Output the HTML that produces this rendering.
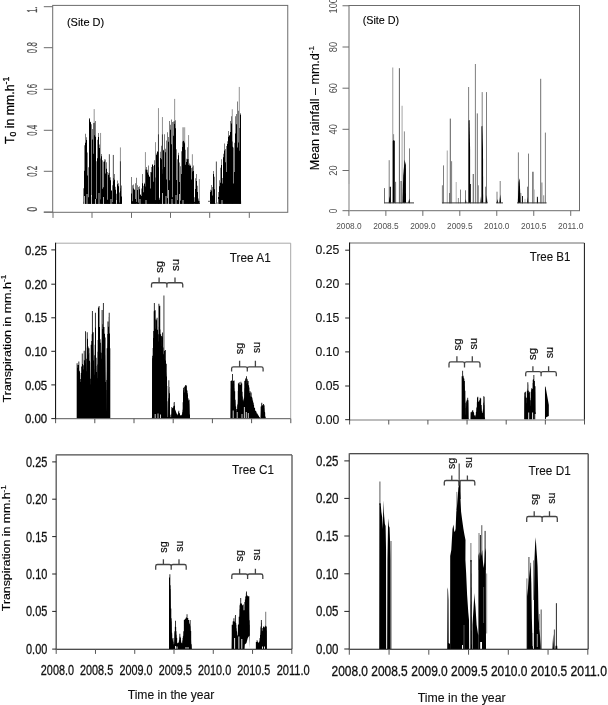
<!DOCTYPE html>
<html lang="en"><head><meta charset="utf-8"><title>Transpiration and rainfall time series</title>
<style>html,body{margin:0;padding:0;background:#fff}body{width:608px;height:705px;overflow:hidden}svg{display:block}text{font-family:'Liberation Sans', Arial, Helvetica, sans-serif}</style>
</head><body>
<svg width="608" height="705" viewBox="0 0 608 705">
<rect width="608" height="705" fill="#fff"/>
<g id="p1">
<line x1="94.18" y1="109.12" x2="94.18" y2="203.8" stroke="#777" stroke-width="0.8"/>
<line x1="100.57" y1="132.95" x2="100.57" y2="203.8" stroke="#777" stroke-width="0.8"/>
<line x1="109.36" y1="154.23" x2="109.36" y2="203.8" stroke="#222" stroke-width="0.8"/>
<line x1="113.33" y1="154.94" x2="113.33" y2="203.8" stroke="#222" stroke-width="0.8"/>
<line x1="120.43" y1="147.42" x2="120.43" y2="203.8" stroke="#777" stroke-width="0.8"/>
<line x1="120.43" y1="161.32" x2="120.43" y2="203.8" stroke="#222" stroke-width="0.8"/>
<path d="M83.5 203.8V188.2h0.5V203.8zM84 203.8V170.78h0.5V203.8zM84.5 203.8V145.37h0.5V203.8zM85 203.8V142.66h0.5V203.8zM85.5 203.8V196.81h0.5V203.8zM86 203.8V137.21h0.5V203.8zM86.5 203.8V140.1h0.5V203.8zM87 203.8V152.42h0.5V203.8zM87.5 203.8V175.44h0.5V203.8zM88 203.8V198.45h0.5V203.8zM88.5 203.8V167.27h0.5V203.8zM89 203.8V118.19h0.5V203.8zM89.5 203.8V119.19h0.5V203.8zM90 203.8V121.85h0.5V203.8zM90.5 203.8V122.29h0.5V203.8zM91 203.8V124.14h0.5V203.8zM91.5 203.8V196.63h0.5V203.8zM92 203.8V139.61h0.5V203.8zM92.5 203.8V129.12h0.5V203.8zM93 203.8V153.71h0.5V203.8zM93.5 203.8V122.89h0.5V203.8zM94 203.8V135.2h0.5V203.8zM94.5 203.8V122.7h0.5V203.8zM95 203.8V132.38h0.5V203.8zM95.5 203.8V136.71h0.5V203.8zM96 203.8V161.28h0.5V203.8zM96.5 203.8V202.02h0.5V203.8zM97 203.8V158.31h0.5V203.8zM97.5 203.8V139.87h0.5V203.8zM98 203.8V145.44h0.5V203.8zM98.5 203.8V137.11h0.5V203.8zM99 203.8V144.41h0.5V203.8zM99.5 203.8V148.08h0.5V203.8zM100.5 203.8V158.6h0.5V203.8zM101 203.8V156.34h0.5V203.8zM101.5 203.8V154.01h0.5V203.8zM102 203.8V188.81h0.5V203.8zM102.5 203.8V160.2h0.5V203.8zM103 203.8V161.68h0.5V203.8zM103.5 203.8V187.13h0.5V203.8zM104 203.8V161.6h0.5V203.8zM104.5 203.8V161.6h0.5V203.8zM105 203.8V159.5h0.5V203.8zM105.5 203.8V173.38h0.5V203.8zM106 203.8V168.64h0.5V203.8zM106.5 203.8V162.18h0.5V203.8zM107 203.8V199.66h0.5V203.8zM107.5 203.8V172.12h0.5V203.8zM108 203.8V174.89h0.5V203.8zM108.5 203.8V173.36h0.5V203.8zM109 203.8V174.72h0.5V203.8zM109.5 203.8V177.55h0.5V203.8zM110 203.8V177.15h0.5V203.8zM110.5 203.8V180.21h0.5V203.8zM111 203.8V191.12h0.5V203.8zM111.5 203.8V190h0.5V203.8zM112 203.8V185.23h0.5V203.8zM113 203.8V181.26h0.5V203.8zM113.5 203.8V177.96h0.5V203.8zM114 203.8V177.23h0.5V203.8zM114.5 203.8V179.74h0.5V203.8zM115 203.8V186.73h0.5V203.8zM115.5 203.8V189.76h0.5V203.8zM116 203.8V193.7h0.5V203.8zM116.5 203.8V203.13h0.5V203.8zM117 203.8V184.34h0.5V203.8zM117.5 203.8V180.93h0.5V203.8zM118 203.8V183.14h0.5V203.8zM118.5 203.8V186.34h0.5V203.8zM119.5 203.8V192.51h0.5V203.8zM120 203.8V191.1h0.5V203.8zM120.5 203.8V188.14h0.5V203.8zM121 203.8V197.92h0.5V203.8zM121.5 203.8V196.46h0.5V203.8zM85.5 203.8V133.66h0.5V203.8zM89 203.8V118.06h0.5V203.8zM95 203.8V120.89h0.5V203.8zM98 203.8V132.95h0.5V203.8zM104.5 203.8V159.19h0.5V203.8zM109 203.8V172.67h0.5V203.8zM114 203.8V174.09h0.5V203.8zM117.5 203.8V180.47h0.5V203.8zM121 203.8V185.43h0.5V203.8z" fill="#000"/>
<path d="M83.55 203.8L83.55 203.8L83.97 201.2L84.96 198.36L85.96 198.19L87.09 198.93L87.66 198.59L88.23 197.22L89.22 196.94L90.21 197.11L91.35 197.45L92.06 198.59L93.19 197.34L94.61 197.22L95.18 197.17L95.89 198.25L96.74 198.93L97.73 198.7L98.44 198.13L99.43 199.04L101.28 199.72L102.41 199.95L103.4 200.52L104.82 200.23L105.82 200.29L106.95 200.34L108.09 201.42L109.08 201.31L110.21 201.65L111.49 202.27L112.62 202.33L114.33 201.42L115.18 202.33L116.31 203.01L117.59 201.93L118.58 202.16L119.43 202.78L121.42 202.33L121.99 203.8L121.99 203.8Z" fill="#000"/>
<line x1="145.43" y1="152.1" x2="145.43" y2="203.8" stroke="#777" stroke-width="0.8"/>
<line x1="155.5" y1="142.17" x2="155.5" y2="203.8" stroke="#777" stroke-width="0.8"/>
<line x1="158.48" y1="108.13" x2="158.48" y2="203.8" stroke="#777" stroke-width="0.8"/>
<line x1="158.48" y1="134.37" x2="158.48" y2="203.8" stroke="#222" stroke-width="0.8"/>
<line x1="162.45" y1="117.06" x2="162.45" y2="203.8" stroke="#777" stroke-width="0.8"/>
<line x1="162.45" y1="134.37" x2="162.45" y2="203.8" stroke="#222" stroke-width="0.8"/>
<line x1="174.65" y1="98.91" x2="174.65" y2="203.8" stroke="#777" stroke-width="0.8"/>
<line x1="183.73" y1="127.28" x2="183.73" y2="203.8" stroke="#aaa" stroke-width="3"/>
<line x1="188.55" y1="135.08" x2="188.55" y2="203.8" stroke="#777" stroke-width="0.8"/>
<line x1="192.38" y1="154.23" x2="192.38" y2="203.8" stroke="#777" stroke-width="0.8"/>
<line x1="199.33" y1="179.05" x2="199.33" y2="203.8" stroke="#777" stroke-width="0.8"/>
<path d="M131.5 203.8V193.59h0.5V203.8zM132 203.8V201.23h0.5V203.8zM132.5 203.8V185.27h0.5V203.8zM133 203.8V184.61h0.5V203.8zM133.5 203.8V188.61h0.5V203.8zM134 203.8V189.81h0.5V203.8zM134.5 203.8V189.47h0.5V203.8zM135 203.8V198.92h0.5V203.8zM135.5 203.8V183.13h0.5V203.8zM136.5 203.8V179.58h0.5V203.8zM137 203.8V185.24h0.5V203.8zM137.5 203.8V189.99h0.5V203.8zM138 203.8V203.19h0.5V203.8zM138.5 203.8V186.89h0.5V203.8zM139 203.8V199.53h0.5V203.8zM139.5 203.8V189.21h0.5V203.8zM140 203.8V194.17h0.5V203.8zM140.5 203.8V195.03h0.5V203.8zM141 203.8V188.48h0.5V203.8zM141.5 203.8V196.03h0.5V203.8zM142 203.8V174.62h0.5V203.8zM142.5 203.8V183.19h0.5V203.8zM143 203.8V185.63h0.5V203.8zM143.5 203.8V192.23h0.5V203.8zM144 203.8V182.69h0.5V203.8zM144.5 203.8V184.1h0.5V203.8zM145 203.8V169.39h0.5V203.8zM145.5 203.8V186.39h0.5V203.8zM146 203.8V168.12h0.5V203.8zM146.5 203.8V169.82h0.5V203.8zM147 203.8V172.52h0.5V203.8zM147.5 203.8V169.78h0.5V203.8zM148 203.8V166.73h0.5V203.8zM148.5 203.8V174.83h0.5V203.8zM149 203.8V176.27h0.5V203.8zM149.5 203.8V176.93h0.5V203.8zM150 203.8V172.11h0.5V203.8zM150.5 203.8V188.43h0.5V203.8zM151 203.8V166.98h0.5V203.8zM151.5 203.8V172.13h0.5V203.8zM152 203.8V164.69h0.5V203.8zM152.5 203.8V164.39h0.5V203.8zM153 203.8V165.91h0.5V203.8zM153.5 203.8V181.84h0.5V203.8zM154 203.8V164.94h0.5V203.8zM154.5 203.8V160.24h0.5V203.8zM155 203.8V177.6h0.5V203.8zM155.5 203.8V201.75h0.5V203.8zM156 203.8V155.06h0.5V203.8zM156.5 203.8V153.5h0.5V203.8zM157 203.8V152.07h0.5V203.8zM157.5 203.8V151.58h0.5V203.8zM158 203.8V167.29h0.5V203.8zM158.5 203.8V152.31h0.5V203.8zM159 203.8V197.72h0.5V203.8zM159.5 203.8V201.71h0.5V203.8zM160 203.8V158.12h0.5V203.8zM160.5 203.8V151.81h0.5V203.8zM161 203.8V147.52h0.5V203.8zM161.5 203.8V159.16h0.5V203.8zM162 203.8V173.7h0.5V203.8zM162.5 203.8V169.23h0.5V203.8zM163 203.8V149.7h0.5V203.8zM163.5 203.8V150.51h0.5V203.8zM164 203.8V135.17h0.5V203.8zM164.5 203.8V166.88h0.5V203.8zM165 203.8V152.35h0.5V203.8zM165.5 203.8V148.79h0.5V203.8zM166 203.8V179.44h0.5V203.8zM166.5 203.8V140.52h0.5V203.8zM167 203.8V132.96h0.5V203.8zM168 203.8V136.93h0.5V203.8zM168.5 203.8V141.79h0.5V203.8zM169 203.8V180.19h0.5V203.8zM169.5 203.8V181.73h0.5V203.8zM170 203.8V124.67h0.5V203.8zM170.5 203.8V129.71h0.5V203.8zM171 203.8V144.21h0.5V203.8zM171.5 203.8V119.71h0.5V203.8zM172 203.8V203.44h0.5V203.8zM172.5 203.8V121.93h0.5V203.8zM173 203.8V135.67h0.5V203.8zM173.5 203.8V121.57h0.5V203.8zM174 203.8V121.28h0.5V203.8zM174.5 203.8V124.05h0.5V203.8zM175 203.8V120.61h0.5V203.8zM175.5 203.8V128.28h0.5V203.8zM176 203.8V179.89h0.5V203.8zM176.5 203.8V149.35h0.5V203.8zM177 203.8V201.5h0.5V203.8zM177.5 203.8V159.3h0.5V203.8zM178 203.8V154.26h0.5V203.8zM178.5 203.8V155.22h0.5V203.8zM179 203.8V182.04h0.5V203.8zM179.5 203.8V162.39h0.5V203.8zM180 203.8V200.68h0.5V203.8zM180.5 203.8V166.21h0.5V203.8zM181 203.8V173.96h0.5V203.8zM181.5 203.8V151.34h0.5V203.8zM182 203.8V147.12h0.5V203.8zM182.5 203.8V141.49h0.5V203.8zM183 203.8V141.1h0.5V203.8zM183.5 203.8V141.35h0.5V203.8zM184 203.8V141.87h0.5V203.8zM184.5 203.8V143.22h0.5V203.8zM185 203.8V149.63h0.5V203.8zM185.5 203.8V164.73h0.5V203.8zM186 203.8V158.72h0.5V203.8zM186.5 203.8V162.1h0.5V203.8zM187 203.8V159.26h0.5V203.8zM187.5 203.8V199.36h0.5V203.8zM188 203.8V164.96h0.5V203.8zM188.5 203.8V159.12h0.5V203.8zM189 203.8V163.52h0.5V203.8zM189.5 203.8V165.51h0.5V203.8zM190 203.8V166.12h0.5V203.8zM190.5 203.8V176.37h0.5V203.8zM191 203.8V179.6h0.5V203.8zM191.5 203.8V168.11h0.5V203.8zM192 203.8V167.37h0.5V203.8zM192.5 203.8V171.44h0.5V203.8zM193 203.8V168.34h0.5V203.8zM193.5 203.8V170.92h0.5V203.8zM194 203.8V197.17h0.5V203.8zM195 203.8V188.94h0.5V203.8zM195.5 203.8V178.2h0.5V203.8zM196 203.8V174.53h0.5V203.8zM196.5 203.8V181.11h0.5V203.8zM197 203.8V185.73h0.5V203.8zM197.5 203.8V192.06h0.5V203.8zM198 203.8V200.67h0.5V203.8zM198.5 203.8V198.47h0.5V203.8zM199 203.8V201.07h0.5V203.8zM199.5 203.8V203.14h0.5V203.8zM131 203.8V176.92h0.5V203.8zM136.5 203.8V177.63h0.5V203.8zM139 203.8V186.14h0.5V203.8zM142 203.8V174.09h0.5V203.8zM146 203.8V166.99h0.5V203.8zM148 203.8V165.57h0.5V203.8zM152.5 203.8V164.16h0.5V203.8zM157 203.8V151.39h0.5V203.8zM161 203.8V145.72h0.5V203.8zM164 203.8V134.37h0.5V203.8zM167 203.8V132.24h0.5V203.8zM169.5 203.8V120.89h0.5V203.8zM171.5 203.8V119.48h0.5V203.8zM175 203.8V120.18h0.5V203.8zM178 203.8V152.81h0.5V203.8zM183.5 203.8V140.75h0.5V203.8zM187.5 203.8V147.13h0.5V203.8zM190.5 203.8V164.87h0.5V203.8zM193 203.8V165.57h0.5V203.8zM196 203.8V174.09h0.5V203.8z" fill="#000"/>
<path d="M131.39 203.8L131.39 203.8L131.39 201.65L132.38 201.76L133.38 202.33L134.51 202.78L135.65 202.1L136.64 201.71L137.63 202.67L139.05 202.39L140.18 202.78L141.32 202.1L142.31 201.42L143.3 202.33L144.44 201.08L146.28 200.86L147.28 201.31L148.41 200.74L149.4 201.65L150.4 201.2L151.53 200.74L152.67 200.63L153.66 200.86L154.79 200.29L156.5 199.83L157.49 199.61L159.48 199.72L160.47 199.83L161.46 199.15L163.45 199.38L164.3 198.25L165.43 199.61L166.43 198.42L167.42 198.08L168.55 198.59L169.55 197.17L170.68 197.45L171.67 197.05L172.81 197.17L173.8 197.22L175.36 197.11L176.35 198.76L177.35 200.29L178.48 199.72L179.62 200.4L180.61 200.97L181.6 199.72L182.74 198.81L183.73 198.76L184.72 198.93L185.57 199.72L186.71 200.52L187.7 199.27L189.55 200.74L190.54 200.69L191.53 200.97L193.38 200.74L194.37 201.88L195.5 201.54L196.5 201.42L197.63 202.78L198.34 203.24L200.04 203.8L200.04 203.8Z" fill="#000"/>
<line x1="216.36" y1="161.53" x2="216.36" y2="203.8" stroke="#222" stroke-width="0.8"/>
<line x1="232.27" y1="109.26" x2="232.27" y2="203.8" stroke="#777" stroke-width="0.8"/>
<line x1="239.29" y1="86.95" x2="239.29" y2="203.8" stroke="#777" stroke-width="0.8"/>
<path d="M210.5 203.8V189.83h0.5V203.8zM211 203.8V188.1h0.5V203.8zM211.5 203.8V190.38h0.5V203.8zM212 203.8V195.46h0.5V203.8zM212.5 203.8V187.11h0.5V203.8zM213 203.8V173.84h0.5V203.8zM213.5 203.8V173.89h0.5V203.8zM214 203.8V176.76h0.5V203.8zM214.5 203.8V189.13h0.5V203.8zM215 203.8V203.3h0.5V203.8zM217.5 203.8V202.23h0.5V203.8zM218 203.8V197.05h0.5V203.8zM218.5 203.8V192.11h0.5V203.8zM219 203.8V186.34h0.5V203.8zM219.5 203.8V180.68h0.5V203.8zM220 203.8V182.8h0.5V203.8zM220.5 203.8V170.53h0.5V203.8zM221 203.8V164.91h0.5V203.8zM221.5 203.8V165.54h0.5V203.8zM222 203.8V189.93h0.5V203.8zM222.5 203.8V177.99h0.5V203.8zM223 203.8V158.84h0.5V203.8zM223.5 203.8V157.28h0.5V203.8zM224 203.8V144.44h0.5V203.8zM224.5 203.8V150.38h0.5V203.8zM225 203.8V198.4h0.5V203.8zM225.5 203.8V162.23h0.5V203.8zM226 203.8V172.11h0.5V203.8zM226.5 203.8V151.07h0.5V203.8zM227 203.8V144.07h0.5V203.8zM227.5 203.8V142.07h0.5V203.8zM228 203.8V136.72h0.5V203.8zM228.5 203.8V133.04h0.5V203.8zM229 203.8V134.9h0.5V203.8zM229.5 203.8V135.68h0.5V203.8zM230 203.8V131.97h0.5V203.8zM230.5 203.8V125.35h0.5V203.8zM231 203.8V117.93h0.5V203.8zM231.5 203.8V123.47h0.5V203.8zM232 203.8V146.65h0.5V203.8zM232.5 203.8V141.48h0.5V203.8zM233 203.8V167.46h0.5V203.8zM234 203.8V172.07h0.5V203.8zM234.5 203.8V176.39h0.5V203.8zM235 203.8V133.54h0.5V203.8zM235.5 203.8V139.98h0.5V203.8zM236 203.8V124.14h0.5V203.8zM236.5 203.8V113.98h0.5V203.8zM237 203.8V114.2h0.5V203.8zM237.5 203.8V147.48h0.5V203.8zM238 203.8V110.82h0.5V203.8zM238.5 203.8V142.51h0.5V203.8zM239 203.8V150.8h0.5V203.8zM239.5 203.8V128.11h0.5V203.8zM240 203.8V113.66h0.5V203.8zM240.5 203.8V115.21h0.5V203.8zM210 203.8V191.96h0.5V203.8zM211 203.8V184.94h0.5V203.8zM212 203.8V195.86h0.5V203.8zM213 203.8V170.89h0.5V203.8zM214 203.8V177.14h0.5V203.8zM218.5 203.8V194.3h0.5V203.8zM219.5 203.8V180.26h0.5V203.8zM220.5 203.8V167.77h0.5V203.8zM221.5 203.8V159.19h0.5V203.8zM222 203.8V183.38h0.5V203.8zM223 203.8V153.73h0.5V203.8zM224 203.8V143.59h0.5V203.8zM225 203.8V149.05h0.5V203.8zM226 203.8V174.02h0.5V203.8zM226.5 203.8V145.93h0.5V203.8zM227.5 203.8V141.25h0.5V203.8zM228.5 203.8V131.11h0.5V203.8zM229.5 203.8V137.35h0.5V203.8zM230.5 203.8V120.96h0.5V203.8zM231 203.8V116.28h0.5V203.8zM233 203.8V147.49h0.5V203.8zM233.5 203.8V183.38h0.5V203.8zM234.5 203.8V142.81h0.5V203.8zM235.5 203.8V116.28h0.5V203.8zM237 203.8V101.46h0.5V203.8zM238 203.8V111.6h0.5V203.8zM240 203.8V113.16h0.5V203.8zM240.5 203.8V114.72h0.5V203.8z" fill="#000"/>
<path d="M210.43 203.8L210.43 203.79L210.43 202.62L211.21 201.91L212.3 203.01L213.23 200.51L214.33 201.13L215.26 203.79L217.45 203.79L218.54 202.85L219.79 201.45L220.88 200.2L221.5 199.34L222.44 201.76L223.38 198.79L224.16 197.78L225.25 198.33L226.34 200.82L226.81 198.01L227.9 197.54L228.68 196.53L229.62 197.15L230.71 195.52L231.49 195.05L233.05 198.17L233.83 201.76L234.92 197.7L235.86 195.05L237.26 193.57L238.36 194.58L240.23 194.74L240.85 194.89L241.16 203.79L241.16 203.8Z" fill="#000"/>
<line x1="208" y1="201.3" x2="210.5" y2="201.3" stroke="#333" stroke-width="0.8"/>
<line x1="84.5" y1="196" x2="84.5" y2="204.8" stroke="#fff" stroke-width="0.7"/>
<line x1="87" y1="194" x2="87" y2="204.8" stroke="#fff" stroke-width="0.7"/>
<line x1="91.5" y1="195" x2="91.5" y2="204.8" stroke="#fff" stroke-width="0.7"/>
<line x1="95.5" y1="199" x2="95.5" y2="204.8" stroke="#fff" stroke-width="0.7"/>
<line x1="99" y1="193" x2="99" y2="204.8" stroke="#fff" stroke-width="0.7"/>
<line x1="103.5" y1="197" x2="103.5" y2="204.8" stroke="#fff" stroke-width="0.7"/>
<line x1="111" y1="199" x2="111" y2="204.8" stroke="#fff" stroke-width="0.7"/>
<line x1="116.5" y1="200" x2="116.5" y2="204.8" stroke="#fff" stroke-width="0.7"/>
<line x1="162.5" y1="193" x2="162.5" y2="204.8" stroke="#fff" stroke-width="0.7"/>
<line x1="166" y1="196" x2="166" y2="204.8" stroke="#fff" stroke-width="0.7"/>
<line x1="168.5" y1="190" x2="168.5" y2="204.8" stroke="#fff" stroke-width="0.7"/>
<line x1="172" y1="199" x2="172" y2="204.8" stroke="#fff" stroke-width="0.7"/>
<line x1="176" y1="195" x2="176" y2="204.8" stroke="#fff" stroke-width="0.7"/>
<line x1="179.5" y1="194" x2="179.5" y2="204.8" stroke="#fff" stroke-width="0.7"/>
<line x1="183" y1="200" x2="183" y2="204.8" stroke="#fff" stroke-width="0.7"/>
<line x1="140" y1="199" x2="140" y2="204.8" stroke="#fff" stroke-width="0.7"/>
<line x1="146" y1="200" x2="146" y2="204.8" stroke="#fff" stroke-width="0.7"/>
<line x1="218" y1="199" x2="218" y2="204.8" stroke="#fff" stroke-width="0.7"/>
<line x1="222" y1="200" x2="222" y2="204.8" stroke="#fff" stroke-width="0.7"/>
<rect x="52.7" y="5.4" width="235.05" height="206.9" fill="none" stroke="#6c6c6c" stroke-width="1"/>
<line x1="43.8" y1="212.3" x2="52.7" y2="212.3" stroke="#6c6c6c" stroke-width="1"/>
<line x1="43.8" y1="6.7" x2="52.7" y2="6.7" stroke="#6c6c6c" stroke-width="1"/>
<line x1="43.8" y1="47.7" x2="52.7" y2="47.7" stroke="#6c6c6c" stroke-width="1"/>
<line x1="43.8" y1="89.3" x2="52.7" y2="89.3" stroke="#6c6c6c" stroke-width="1"/>
<line x1="43.8" y1="130.3" x2="52.7" y2="130.3" stroke="#6c6c6c" stroke-width="1"/>
<line x1="43.8" y1="171.3" x2="52.7" y2="171.3" stroke="#6c6c6c" stroke-width="1"/>
<line x1="43.8" y1="212" x2="52.7" y2="212" stroke="#6c6c6c" stroke-width="1"/>
<line x1="53" y1="212.3" x2="53" y2="217.9" stroke="#6c6c6c" stroke-width="1"/>
<line x1="92" y1="212.3" x2="92" y2="217.9" stroke="#6c6c6c" stroke-width="1"/>
<line x1="131.5" y1="212.3" x2="131.5" y2="217.9" stroke="#6c6c6c" stroke-width="1"/>
<line x1="170.5" y1="212.3" x2="170.5" y2="217.9" stroke="#6c6c6c" stroke-width="1"/>
<line x1="209.7" y1="212.3" x2="209.7" y2="217.9" stroke="#6c6c6c" stroke-width="1"/>
<line x1="249.3" y1="212.3" x2="249.3" y2="217.9" stroke="#6c6c6c" stroke-width="1"/>
<text x="37.1" y="53.15" font-size="15.5" fill="#505050" stroke="#505050" stroke-width="0.25" textLength="10.9" lengthAdjust="spacingAndGlyphs" transform="rotate(-90 37.1 53.15)">0.8</text>
<text x="37.1" y="94.75" font-size="15.5" fill="#505050" stroke="#505050" stroke-width="0.25" textLength="10.9" lengthAdjust="spacingAndGlyphs" transform="rotate(-90 37.1 94.75)">0.6</text>
<text x="37.1" y="135.75" font-size="15.5" fill="#505050" stroke="#505050" stroke-width="0.25" textLength="10.9" lengthAdjust="spacingAndGlyphs" transform="rotate(-90 37.1 135.75)">0.4</text>
<text x="37.1" y="176.75" font-size="15.5" fill="#505050" stroke="#505050" stroke-width="0.25" textLength="10.9" lengthAdjust="spacingAndGlyphs" transform="rotate(-90 37.1 176.75)">0.2</text>
<text x="37.1" y="211.45" font-size="15.5" fill="#505050" stroke="#505050" stroke-width="0.25" textLength="4.7" lengthAdjust="spacingAndGlyphs" transform="rotate(-90 37.1 211.45)">0</text>
<text x="37.1" y="12.7" font-size="15.5" fill="#505050" stroke="#505050" stroke-width="0.25" textLength="6.4" lengthAdjust="spacingAndGlyphs" transform="rotate(-90 37.1 12.7)">1.</text>
<text x="14.3" y="144" font-size="12.8" fill="#000" stroke="#000" stroke-width="0.3" textLength="67.2" lengthAdjust="spacingAndGlyphs" transform="rotate(-90 14.3 144)">T<tspan font-size="9" dy="2">0</tspan><tspan dy="-2"> in mm.h</tspan><tspan font-size="9" dy="-5">-1</tspan></text>
<text x="66.9" y="26.1" font-size="11" fill="#000" stroke="#000" stroke-width="0.12" textLength="37.3" lengthAdjust="spacingAndGlyphs">(Site D)</text>
</g>
<g id="p2">
<line x1="384.5" y1="188.1" x2="384.5" y2="203.3" stroke="#4a4a4a" stroke-width="0.8"/>
<line x1="389.2" y1="160.2" x2="389.2" y2="203.3" stroke="#6f6f6f" stroke-width="0.9"/>
<line x1="390.3" y1="186.8" x2="390.3" y2="203.3" stroke="#000" stroke-width="1.2"/>
<line x1="392.7" y1="67.5" x2="392.7" y2="203.3" stroke="#b4b4b4" stroke-width="1.3"/>
<line x1="393.6" y1="134.2" x2="393.6" y2="203.3" stroke="#6f6f6f" stroke-width="0.8"/>
<line x1="395.6" y1="181.8" x2="395.6" y2="203.3" stroke="#6f6f6f" stroke-width="1"/>
<line x1="399.4" y1="68.2" x2="399.4" y2="203.3" stroke="#4a4a4a" stroke-width="0.9"/>
<line x1="401.2" y1="181" x2="401.2" y2="203.3" stroke="#000" stroke-width="1"/>
<line x1="402.1" y1="105.8" x2="402.1" y2="203.3" stroke="#b4b4b4" stroke-width="1.2"/>
<line x1="404.4" y1="131.4" x2="404.4" y2="203.3" stroke="#6f6f6f" stroke-width="0.8"/>
<line x1="409.5" y1="148.4" x2="409.5" y2="203.3" stroke="#6f6f6f" stroke-width="0.9"/>
<line x1="442.4" y1="185.3" x2="442.4" y2="203.3" stroke="#6f6f6f" stroke-width="0.9"/>
<line x1="443.5" y1="165.4" x2="443.5" y2="203.3" stroke="#6f6f6f" stroke-width="0.9"/>
<line x1="447.3" y1="150.5" x2="447.3" y2="203.3" stroke="#b4b4b4" stroke-width="1.2"/>
<line x1="449.5" y1="193" x2="449.5" y2="203.3" stroke="#6f6f6f" stroke-width="0.9"/>
<line x1="450.3" y1="118.6" x2="450.3" y2="203.3" stroke="#4a4a4a" stroke-width="0.9"/>
<line x1="451.6" y1="161.2" x2="451.6" y2="203.3" stroke="#6f6f6f" stroke-width="0.9"/>
<line x1="456.2" y1="182" x2="456.2" y2="203.3" stroke="#b4b4b4" stroke-width="1"/>
<line x1="458.4" y1="198" x2="458.4" y2="203.3" stroke="#6f6f6f" stroke-width="0.8"/>
<line x1="460.5" y1="189.6" x2="460.5" y2="203.3" stroke="#6f6f6f" stroke-width="0.9"/>
<line x1="465.5" y1="190.3" x2="465.5" y2="203.3" stroke="#6f6f6f" stroke-width="0.9"/>
<line x1="468.6" y1="87" x2="468.6" y2="203.3" stroke="#6f6f6f" stroke-width="0.9"/>
<line x1="470.4" y1="184" x2="470.4" y2="203.3" stroke="#000" stroke-width="0.9"/>
<line x1="473.3" y1="174" x2="473.3" y2="203.3" stroke="#6f6f6f" stroke-width="1.2"/>
<line x1="475.4" y1="64" x2="475.4" y2="203.3" stroke="#6f6f6f" stroke-width="0.9"/>
<line x1="477.3" y1="113.4" x2="477.3" y2="203.3" stroke="#6f6f6f" stroke-width="1"/>
<line x1="478.4" y1="185.3" x2="478.4" y2="203.3" stroke="#6f6f6f" stroke-width="0.8"/>
<line x1="482.2" y1="92.1" x2="482.2" y2="203.3" stroke="#6f6f6f" stroke-width="0.9"/>
<line x1="485.6" y1="186.7" x2="485.6" y2="203.3" stroke="#6f6f6f" stroke-width="0.9"/>
<line x1="486.5" y1="92.1" x2="486.5" y2="203.3" stroke="#6f6f6f" stroke-width="0.9"/>
<line x1="497" y1="191.7" x2="497" y2="203.3" stroke="#6f6f6f" stroke-width="0.9"/>
<line x1="500.2" y1="181" x2="500.2" y2="203.3" stroke="#6f6f6f" stroke-width="0.9"/>
<line x1="518.4" y1="152.4" x2="518.4" y2="203.3" stroke="#6f6f6f" stroke-width="0.9"/>
<line x1="520.8" y1="193" x2="520.8" y2="203.3" stroke="#6f6f6f" stroke-width="0.8"/>
<line x1="522.5" y1="196" x2="522.5" y2="203.3" stroke="#000" stroke-width="0.9"/>
<line x1="525" y1="198.8" x2="525" y2="203.3" stroke="#b4b4b4" stroke-width="0.9"/>
<line x1="527.6" y1="186.7" x2="527.6" y2="203.3" stroke="#6f6f6f" stroke-width="1"/>
<line x1="528.5" y1="153.6" x2="528.5" y2="203.3" stroke="#6f6f6f" stroke-width="0.9"/>
<line x1="532.9" y1="171.8" x2="532.9" y2="203.3" stroke="#6f6f6f" stroke-width="1.5"/>
<line x1="534.3" y1="189.5" x2="534.3" y2="203.3" stroke="#b4b4b4" stroke-width="0.9"/>
<line x1="537.4" y1="196.8" x2="537.4" y2="203.3" stroke="#000" stroke-width="0.9"/>
<line x1="540.7" y1="78.8" x2="540.7" y2="203.3" stroke="#6f6f6f" stroke-width="1"/>
<line x1="541.9" y1="182.5" x2="541.9" y2="203.3" stroke="#6f6f6f" stroke-width="0.9"/>
<line x1="543.7" y1="195.3" x2="543.7" y2="203.3" stroke="#6f6f6f" stroke-width="0.8"/>
<line x1="545.4" y1="132.6" x2="545.4" y2="203.3" stroke="#6f6f6f" stroke-width="0.9"/>
<path d="M392.8 202.9 V141 L393.7 139.9 L394.8 141 V202.9 Z" fill="#000"/>
<path d="M402.5 202.9 L403.2 176 L404.6 159.8 L405.9 165 L406 202.9 Z" fill="#000"/>
<path d="M408.2 202.9 L409.3 198.4 L410 202.9 Z" fill="#000"/>
<path d="M388.8 202.9 L389.6 196 L390.8 202.9 Z" fill="#000"/>
<path d="M468.6 202.9 V120.5 L469.6 120 L470.1 150 V202.9 Z" fill="#000"/>
<path d="M481.5 202.9 V126.5 L482.3 125.7 L483 150 L483.2 202.9 Z" fill="#000"/>
<path d="M480.4 202.9 L481 196 L481.6 202.9 Z" fill="#000"/>
<path d="M485.9 202.9 L486.7 195 L487.4 202.9 Z" fill="#000"/>
<path d="M496.6 202.9 L497.4 199 L498 202.9 Z" fill="#000"/>
<path d="M499.4 202.9 L500.2 194.5 L501.1 202.9 Z" fill="#000"/>
<path d="M465.2 202.9 L465.8 199 L466.4 202.9 Z" fill="#000"/>
<path d="M517.8 202.9 L518.6 182 L519.6 178.2 L520.2 192 L520.6 202.9 Z" fill="#000"/>
<path d="M527.2 202.9 L527.7 197 L528.2 202.9 Z" fill="#000"/>
<path d="M537 202.9 L537.5 197 L538 202.9 Z" fill="#000"/>
<line x1="384.2" y1="202.9" x2="414" y2="202.9" stroke="#3c3c3c" stroke-width="1"/>
<line x1="442" y1="202.9" x2="487.6" y2="202.9" stroke="#3c3c3c" stroke-width="1"/>
<line x1="496.3" y1="202.9" x2="503" y2="202.9" stroke="#3c3c3c" stroke-width="1"/>
<line x1="517" y1="202.9" x2="546.6" y2="202.9" stroke="#3c3c3c" stroke-width="1"/>
<rect x="349.0" y="5.5" width="230.5" height="205.2" fill="none" stroke="#6c6c6c" stroke-width="1"/>
<line x1="349" y1="184" x2="349" y2="210.7" stroke="#c4c4c4" stroke-width="1.2"/>
<line x1="342.5" y1="5.75" x2="349" y2="5.75" stroke="#6c6c6c" stroke-width="1"/>
<line x1="342.5" y1="47" x2="349" y2="47" stroke="#6c6c6c" stroke-width="1"/>
<line x1="342.5" y1="88.2" x2="349" y2="88.2" stroke="#6c6c6c" stroke-width="1"/>
<line x1="342.5" y1="129.3" x2="349" y2="129.3" stroke="#6c6c6c" stroke-width="1"/>
<line x1="342.5" y1="170.5" x2="349" y2="170.5" stroke="#6c6c6c" stroke-width="1"/>
<line x1="342.5" y1="210.7" x2="349" y2="210.7" stroke="#6c6c6c" stroke-width="1"/>
<line x1="348.9" y1="210.7" x2="348.9" y2="215.9" stroke="#6c6c6c" stroke-width="1"/>
<line x1="385.87" y1="210.7" x2="385.87" y2="215.9" stroke="#6c6c6c" stroke-width="1"/>
<line x1="422.84" y1="210.7" x2="422.84" y2="215.9" stroke="#6c6c6c" stroke-width="1"/>
<line x1="459.81" y1="210.7" x2="459.81" y2="215.9" stroke="#6c6c6c" stroke-width="1"/>
<line x1="496.78" y1="210.7" x2="496.78" y2="215.9" stroke="#6c6c6c" stroke-width="1"/>
<line x1="533.75" y1="210.7" x2="533.75" y2="215.9" stroke="#6c6c6c" stroke-width="1"/>
<line x1="570.72" y1="210.7" x2="570.72" y2="215.9" stroke="#6c6c6c" stroke-width="1"/>
<text x="336.8" y="13.5" font-size="10.2" fill="#505050" textLength="15.5" lengthAdjust="spacingAndGlyphs" transform="rotate(-90 336.8 13.5)">100</text>
<text x="336.8" y="52.15" font-size="10.2" fill="#505050" textLength="10.3" lengthAdjust="spacingAndGlyphs" transform="rotate(-90 336.8 52.15)">80</text>
<text x="336.8" y="93.35" font-size="10.2" fill="#505050" textLength="10.3" lengthAdjust="spacingAndGlyphs" transform="rotate(-90 336.8 93.35)">60</text>
<text x="336.8" y="134.45" font-size="10.2" fill="#505050" textLength="10.3" lengthAdjust="spacingAndGlyphs" transform="rotate(-90 336.8 134.45)">40</text>
<text x="336.8" y="175.65" font-size="10.2" fill="#505050" textLength="10.3" lengthAdjust="spacingAndGlyphs" transform="rotate(-90 336.8 175.65)">20</text>
<text x="336.8" y="213.2" font-size="10.2" fill="#505050" textLength="4.6" lengthAdjust="spacingAndGlyphs" transform="rotate(-90 336.8 213.2)">0</text>
<text x="336.2" y="228.8" font-size="9.5" fill="#505050" textLength="25.4" lengthAdjust="spacingAndGlyphs">2008.0</text>
<text x="373.17" y="228.8" font-size="9.5" fill="#505050" textLength="25.4" lengthAdjust="spacingAndGlyphs">2008.5</text>
<text x="410.14" y="228.8" font-size="9.5" fill="#505050" textLength="25.4" lengthAdjust="spacingAndGlyphs">2009.0</text>
<text x="447.11" y="228.8" font-size="9.5" fill="#505050" textLength="25.4" lengthAdjust="spacingAndGlyphs">2009.5</text>
<text x="484.08" y="228.8" font-size="9.5" fill="#505050" textLength="25.4" lengthAdjust="spacingAndGlyphs">2010.0</text>
<text x="521.05" y="228.8" font-size="9.5" fill="#505050" textLength="25.4" lengthAdjust="spacingAndGlyphs">2010.5</text>
<text x="558.02" y="228.8" font-size="9.5" fill="#505050" textLength="25.4" lengthAdjust="spacingAndGlyphs">2011.0</text>
<text x="319" y="170.3" font-size="12.3" fill="#000" stroke="#000" stroke-width="0.1" textLength="124.4" lengthAdjust="spacingAndGlyphs" transform="rotate(-90 319 170.3)">Mean rainfall – mm.d<tspan font-size="8" dy="-5">-1</tspan></text>
<text x="362.7" y="23.8" font-size="11" fill="#000" stroke="#000" stroke-width="0.12" textLength="36.5" lengthAdjust="spacingAndGlyphs">(Site D)</text>
</g>
<g id="p3">
<path d="M77.19 418.2V367.66h0.8V418.2zM77.69 418.2V365.03h0.8V418.2zM78.19 418.2V367.59h0.8V418.2zM78.69 418.2V370.45h0.8V418.2zM79.19 418.2V371.68h0.8V418.2zM79.69 418.2V379.02h0.8V418.2zM80.19 418.2V385.44h0.8V418.2zM80.69 418.2V375.08h0.8V418.2zM81.19 418.2V366.6h0.8V418.2zM81.69 418.2V369.68h0.8V418.2zM82.19 418.2V364.09h0.8V418.2zM82.69 418.2V377.25h0.8V418.2zM83.19 418.2V365.34h0.8V418.2zM83.69 418.2V359.85h0.8V418.2zM84.19 418.2V360.27h0.8V418.2zM84.69 418.2V363.14h0.8V418.2zM85.19 418.2V347.23h0.8V418.2zM85.69 418.2V358.77h0.8V418.2zM86.19 418.2V372.97h0.8V418.2zM86.69 418.2V347.78h0.8V418.2zM87.19 418.2V338.82h0.8V418.2zM87.69 418.2V356.86h0.8V418.2zM88.19 418.2V354.51h0.8V418.2zM88.69 418.2V353.06h0.8V418.2zM89.19 418.2V360.67h0.8V418.2zM89.69 418.2V384.53h0.8V418.2zM90.19 418.2V378.74h0.8V418.2zM90.69 418.2V354.88h0.8V418.2zM91.19 418.2V355.29h0.8V418.2zM91.69 418.2V334.34h0.8V418.2zM92.19 418.2V336.68h0.8V418.2zM92.69 418.2V333.87h0.8V418.2zM93.19 418.2V360.56h0.8V418.2zM93.69 418.2V376.66h0.8V418.2zM94.19 418.2V369.37h0.8V418.2zM94.69 418.2V344.74h0.8V418.2zM95.19 418.2V327.6h0.8V418.2zM95.69 418.2V357.66h0.8V418.2zM96.19 418.2V371.89h0.8V418.2zM96.69 418.2V386.26h0.8V418.2zM97.19 418.2V364.54h0.8V418.2zM97.69 418.2V340.04h0.8V418.2zM98.19 418.2V311.01h0.8V418.2zM98.69 418.2V315.42h0.8V418.2zM99.19 418.2V331.07h0.8V418.2zM99.69 418.2V339.37h0.8V418.2zM100.19 418.2V352.23h0.8V418.2zM100.69 418.2V362.36h0.8V418.2zM101.19 418.2V352.82h0.8V418.2zM101.69 418.2V323.47h0.8V418.2zM102.19 418.2V329.08h0.8V418.2zM102.69 418.2V324.21h0.8V418.2zM103.19 418.2V334.83h0.8V418.2zM103.69 418.2V338.4h0.8V418.2zM104.19 418.2V333.65h0.8V418.2zM104.69 418.2V351.6h0.8V418.2zM105.19 418.2V386.41h0.8V418.2zM105.69 418.2V410.83h0.8V418.2zM106.19 418.2V390.01h0.8V418.2zM106.69 418.2V356.56h0.8V418.2zM107.19 418.2V333.96h0.8V418.2zM107.69 418.2V336.83h0.8V418.2zM108.19 418.2V326.63h0.8V418.2zM108.69 418.2V316.9h0.8V418.2zM109.19 418.2V333.42h0.8V418.2zM76.69 418.2V363.26h0.8V418.2zM78.47 418.2V361.49h0.8V418.2zM79.17 418.2V371.24h0.8V418.2zM79.88 418.2V381.88h0.8V418.2zM80.77 418.2V373.01h0.8V418.2zM81.83 418.2V353.51h0.8V418.2zM82.72 418.2V369.47h0.8V418.2zM83.78 418.2V350.85h0.8V418.2zM84.49 418.2V365.92h0.8V418.2zM85.2 418.2V331.35h0.8V418.2zM86.09 418.2V371.24h0.8V418.2zM86.8 418.2V332.23h0.8V418.2zM87.69 418.2V346.42h0.8V418.2zM88.57 418.2V348.19h0.8V418.2zM89.28 418.2V362.38h0.8V418.2zM89.99 418.2V388.09h0.8V418.2zM90.7 418.2V344.65h0.8V418.2zM91.23 418.2V341.1h0.8V418.2zM91.94 418.2V310.96h0.8V418.2zM92.83 418.2V332.23h0.8V418.2zM93.71 418.2V374.79h0.8V418.2zM94.25 418.2V355.28h0.8V418.2zM94.95 418.2V312.73h0.8V418.2zM95.84 418.2V365.92h0.8V418.2zM96.73 418.2V378.33h0.8V418.2zM97.44 418.2V351.74h0.8V418.2zM97.97 418.2V307.41h0.8V418.2zM98.68 418.2V305.99h0.8V418.2zM99.21 418.2V326.91h0.8V418.2zM100.1 418.2V342.87h0.8V418.2zM100.81 418.2V358.83h0.8V418.2zM101.69 418.2V310.07h0.8V418.2zM102.93 418.2V302.98h0.8V418.2zM103.64 418.2V326.91h0.8V418.2zM104.71 418.2V337.55h0.8V418.2zM105.24 418.2V381.88h0.8V418.2zM105.77 418.2V413.79h0.8V418.2zM106.3 418.2V380.11h0.8V418.2zM106.66 418.2V348.19h0.8V418.2zM107.54 418.2V321.6h0.8V418.2zM108.78 418.2V312.73h0.8V418.2zM109.49 418.2V348.19h0.8V418.2z" fill="#000"/>
<path d="M77.09 418.2L77.09 418.2L77.09 375.35L78.87 373.97L79.57 381.57L80.28 389.87L81.17 382.96L82.23 367.74L83.12 380.19L84.18 365.67L84.89 377.42L85.6 350.46L86.49 381.57L87.2 351.15L88.09 362.21L88.97 363.59L89.68 374.66L90.39 394.71L91.1 360.83L91.63 358.06L92.34 334.55L93.23 351.15L94.11 384.34L94.65 369.13L95.35 335.93L96.24 377.42L97.13 387.1L97.84 366.36L98.37 331.78L99.08 330.68L99.61 347L100.5 359.44L101.21 371.89L102.09 333.86L103.33 328.33L104.04 347L105.11 355.3L105.64 389.87L106.17 414.76L106.7 388.49L107.06 363.59L107.94 342.85L109.18 335.93L109.89 363.59L109.89 418.2L109.89 418.2Z" fill="#000"/>
<line x1="163.89" y1="295.53" x2="163.89" y2="418.2" stroke="#777" stroke-width="1.4"/>
<path d="M151.69 418.2V417.8h0.8V418.2zM152.19 418.2V355.76h0.8V418.2zM152.69 418.2V348.02h0.8V418.2zM153.19 418.2V331.07h0.8V418.2zM153.69 418.2V311.36h0.8V418.2zM154.19 418.2V310.96h0.8V418.2zM154.69 418.2V328.38h0.8V418.2zM155.19 418.2V328.87h0.8V418.2zM155.69 418.2V332.22h0.8V418.2zM156.19 418.2V320.7h0.8V418.2zM156.69 418.2V325.92h0.8V418.2zM157.19 418.2V329.7h0.8V418.2zM157.69 418.2V344.26h0.8V418.2zM158.19 418.2V341.49h0.8V418.2zM158.69 418.2V306.45h0.8V418.2zM159.19 418.2V325.37h0.8V418.2zM159.69 418.2V329.38h0.8V418.2zM160.19 418.2V342h0.8V418.2zM160.69 418.2V346.85h0.8V418.2zM161.19 418.2V337.32h0.8V418.2zM161.69 418.2V337.34h0.8V418.2zM162.19 418.2V340.97h0.8V418.2zM162.69 418.2V347.43h0.8V418.2zM163.19 418.2V354.3h0.8V418.2zM163.69 418.2V359.01h0.8V418.2zM164.19 418.2V351.05h0.8V418.2zM164.69 418.2V356.62h0.8V418.2zM165.19 418.2V360.43h0.8V418.2zM165.69 418.2V364.91h0.8V418.2zM166.19 418.2V376.44h0.8V418.2zM166.69 418.2V401.13h0.8V418.2zM167.19 418.2V417.24h0.8V418.2zM167.69 418.2V417.41h0.8V418.2zM168.19 418.2V398.21h0.8V418.2zM168.69 418.2V386.96h0.8V418.2zM169.19 418.2V393.78h0.8V418.2zM169.69 418.2V414.85h0.8V418.2zM170.19 418.2V417.32h0.8V418.2zM170.69 418.2V417.4h0.8V418.2zM171.19 418.2V414.18h0.8V418.2zM171.69 418.2V408.08h0.8V418.2zM172.19 418.2V408.21h0.8V418.2zM172.69 418.2V408.95h0.8V418.2zM173.19 418.2V406.19h0.8V418.2zM173.69 418.2V403h0.8V418.2zM174.19 418.2V405.68h0.8V418.2zM174.69 418.2V410.72h0.8V418.2zM175.19 418.2V411.16h0.8V418.2zM175.69 418.2V412.59h0.8V418.2zM176.19 418.2V414.21h0.8V418.2zM176.69 418.2V414.6h0.8V418.2zM177.19 418.2V415.44h0.8V418.2zM177.69 418.2V414.14h0.8V418.2zM178.19 418.2V412.03h0.8V418.2zM178.69 418.2V413.01h0.8V418.2zM179.19 418.2V413.58h0.8V418.2zM179.69 418.2V415.44h0.8V418.2zM180.19 418.2V415.35h0.8V418.2zM180.69 418.2V415.5h0.8V418.2zM181.19 418.2V415.19h0.8V418.2zM181.69 418.2V414.48h0.8V418.2zM182.19 418.2V412.37h0.8V418.2zM182.69 418.2V402.25h0.8V418.2zM183.19 418.2V390.18h0.8V418.2zM183.69 418.2V392.59h0.8V418.2zM184.19 418.2V387.11h0.8V418.2zM184.69 418.2V386.19h0.8V418.2zM185.19 418.2V385.81h0.8V418.2zM185.69 418.2V389.64h0.8V418.2zM186.19 418.2V388.81h0.8V418.2zM186.69 418.2V390.52h0.8V418.2zM187.19 418.2V394.95h0.8V418.2zM187.69 418.2V398.33h0.8V418.2zM188.19 418.2V401.53h0.8V418.2zM188.69 418.2V399.83h0.8V418.2zM189.19 418.2V414.44h0.8V418.2zM151.69 418.2V417.79h0.8V418.2zM152.05 418.2V358.23h0.8V418.2zM152.98 418.2V337.94h0.8V418.2zM153.9 418.2V302.91h0.8V418.2zM154.82 418.2V310.28h0.8V418.2zM155.74 418.2V319.5h0.8V418.2zM156.66 418.2V317.66h0.8V418.2zM157.59 418.2V334.26h0.8V418.2zM157.95 418.2V367.45h0.8V418.2zM158.51 418.2V303.83h0.8V418.2zM159.43 418.2V305.67h0.8V418.2zM160.35 418.2V334.26h0.8V418.2zM161.27 418.2V336.1h0.8V418.2zM162.2 418.2V332.41h0.8V418.2zM164.04 418.2V350.85h0.8V418.2zM164.96 418.2V349.93h0.8V418.2zM165.88 418.2V363.76h0.8V418.2zM166.44 418.2V385.89h0.8V418.2zM166.99 418.2V417.24h0.8V418.2zM167.73 418.2V417.24h0.8V418.2zM168.47 418.2V380.36h0.8V418.2zM169.2 418.2V393.26h0.8V418.2zM169.76 418.2V417.24h0.8V418.2zM171.05 418.2V417.24h0.8V418.2zM171.42 418.2V407.09h0.8V418.2zM172.71 418.2V408.02h0.8V418.2zM173.81 418.2V402.12h0.8V418.2zM174.74 418.2V409.86h0.8V418.2zM176.03 418.2V413.55h0.8V418.2zM177.32 418.2V415.39h0.8V418.2zM178.42 418.2V410.78h0.8V418.2zM179.71 418.2V415.39h0.8V418.2zM181.56 418.2V415.02h0.8V418.2zM182.48 418.2V409.86h0.8V418.2zM183.03 418.2V387.73h0.8V418.2zM184.32 418.2V386.81h0.8V418.2zM185.25 418.2V384.97h0.8V418.2zM186.17 418.2V385.52h0.8V418.2zM187.09 418.2V393.26h0.8V418.2zM188.01 418.2V400.64h0.8V418.2zM188.75 418.2V399.72h0.8V418.2zM189.3 418.2V417.79h0.8V418.2z" fill="#000"/>
<path d="M152.09 418.2L152.09 417.87L152.45 370.22L153.38 354L154.3 325.97L155.22 331.87L156.14 339.24L157.06 337.77L157.99 351.04L158.35 377.6L158.91 326.7L159.83 328.18L160.75 351.04L161.67 352.52L162.6 349.57L164.44 364.32L165.36 363.58L166.28 374.65L166.84 392.35L167.39 417.43L168.13 417.43L168.87 387.92L169.6 398.25L170.16 417.43L171.45 417.43L171.82 409.32L173.11 410.05L174.21 405.33L175.14 411.53L176.43 414.48L177.72 415.95L178.82 412.27L180.11 415.95L181.96 415.66L182.88 411.53L183.43 393.83L184.72 393.09L185.65 391.61L186.57 392.06L187.49 398.25L188.41 404.15L189.15 403.41L189.7 417.87L189.7 418.2Z" fill="#000"/>
<path d="M230.78 418.2V385.6h0.8V418.2zM231.28 418.2V385.13h0.8V418.2zM231.78 418.2V383.8h0.8V418.2zM232.28 418.2V381.37h0.8V418.2zM232.78 418.2V387.24h0.8V418.2zM233.28 418.2V380.78h0.8V418.2zM233.78 418.2V383.67h0.8V418.2zM234.28 418.2V395.03h0.8V418.2zM234.78 418.2V399.66h0.8V418.2zM235.28 418.2V407.26h0.8V418.2zM235.78 418.2V408.92h0.8V418.2zM236.28 418.2V412.12h0.8V418.2zM236.78 418.2V409.08h0.8V418.2zM237.28 418.2V404.6h0.8V418.2zM237.78 418.2V391.01h0.8V418.2zM238.28 418.2V383.14h0.8V418.2zM238.78 418.2V383.14h0.8V418.2zM239.28 418.2V384.64h0.8V418.2zM239.78 418.2V390.56h0.8V418.2zM240.28 418.2V387.36h0.8V418.2zM240.78 418.2V382.78h0.8V418.2zM241.28 418.2V388.35h0.8V418.2zM241.78 418.2V391.76h0.8V418.2zM242.28 418.2V400.34h0.8V418.2zM242.78 418.2V401.31h0.8V418.2zM243.28 418.2V399.73h0.8V418.2zM243.78 418.2V397.72h0.8V418.2zM244.28 418.2V382.77h0.8V418.2zM244.78 418.2V380.53h0.8V418.2zM245.28 418.2V386.11h0.8V418.2zM245.78 418.2V383.77h0.8V418.2zM246.28 418.2V378.15h0.8V418.2zM246.78 418.2V386.21h0.8V418.2zM247.28 418.2V383.04h0.8V418.2zM247.78 418.2V385.27h0.8V418.2zM248.28 418.2V385.33h0.8V418.2zM248.78 418.2V393.42h0.8V418.2zM249.28 418.2V393.02h0.8V418.2zM249.78 418.2V396.49h0.8V418.2zM250.28 418.2V396.45h0.8V418.2zM250.78 418.2V393.8h0.8V418.2zM251.28 418.2V396.8h0.8V418.2zM251.78 418.2V398.65h0.8V418.2zM252.28 418.2V400.58h0.8V418.2zM252.78 418.2V402.43h0.8V418.2zM253.28 418.2V404.84h0.8V418.2zM253.78 418.2V407.49h0.8V418.2zM254.28 418.2V408.19h0.8V418.2zM254.78 418.2V410.42h0.8V418.2zM255.28 418.2V410.99h0.8V418.2zM255.78 418.2V411.99h0.8V418.2zM256.28 418.2V413.57h0.8V418.2zM256.78 418.2V414.03h0.8V418.2zM257.28 418.2V414.61h0.8V418.2zM257.78 418.2V415.43h0.8V418.2zM258.28 418.2V416.32h0.8V418.2zM258.78 418.2V416.97h0.8V418.2zM260.78 418.2V407.91h0.8V418.2zM261.28 418.2V403.53h0.8V418.2zM261.78 418.2V405.93h0.8V418.2zM262.28 418.2V405.78h0.8V418.2zM262.78 418.2V405.7h0.8V418.2zM263.28 418.2V404.43h0.8V418.2zM263.78 418.2V405.97h0.8V418.2zM264.28 418.2V412.04h0.8V418.2zM264.78 418.2V416.65h0.8V418.2zM230.54 418.2V381.07h0.8V418.2zM231.17 418.2V380.43h0.8V418.2zM232.07 418.2V374.04h0.8V418.2zM232.83 418.2V381.07h0.8V418.2zM233.73 418.2V380.43h0.8V418.2zM234.37 418.2V391.28h0.8V418.2zM235.39 418.2V406.6h0.8V418.2zM236.28 418.2V411.71h0.8V418.2zM237.18 418.2V406.6h0.8V418.2zM237.94 418.2V383.62h0.8V418.2zM238.83 418.2V382.34h0.8V418.2zM239.73 418.2V384.9h0.8V418.2zM240.49 418.2V381.7h0.8V418.2zM241.39 418.2V383.62h0.8V418.2zM242.03 418.2V396.39h0.8V418.2zM242.66 418.2V401.49h0.8V418.2zM243.56 418.2V398.94h0.8V418.2zM244.32 418.2V381.07h0.8V418.2zM245.22 418.2V378.51h0.8V418.2zM246.11 418.2V376.21h0.8V418.2zM246.88 418.2V379.15h0.8V418.2zM247.77 418.2V381.07h0.8V418.2zM248.66 418.2V387.45h0.8V418.2zM249.69 418.2V391.28h0.8V418.2zM250.71 418.2V392.56h0.8V418.2zM251.6 418.2V397.66h0.8V418.2zM252.88 418.2V402.77h0.8V418.2zM254.15 418.2V407.88h0.8V418.2zM255.43 418.2V411.07h0.8V418.2zM256.71 418.2V413.62h0.8V418.2zM257.98 418.2V415.54h0.8V418.2zM259.26 418.2V417.83h0.8V418.2zM260.67 418.2V406.6h0.8V418.2zM261.43 418.2V402.77h0.8V418.2zM262.2 418.2V405.32h0.8V418.2zM263.09 418.2V404.05h0.8V418.2zM263.73 418.2V405.32h0.8V418.2zM264.37 418.2V412.98h0.8V418.2z" fill="#000"/>
<path d="M230.68 418.2L230.68 418.11L230.94 388.49L231.57 387.98L232.47 382.88L233.23 388.49L234.13 387.98L234.77 396.66L235.79 408.92L236.68 413L237.58 408.92L238.34 390.54L239.23 389.51L240.13 391.56L240.89 389L241.79 390.54L242.43 400.75L243.06 404.83L243.96 402.79L244.72 388.49L245.62 386.45L246.51 384.61L247.28 386.96L248.17 388.49L249.06 393.6L250.09 396.66L251.11 397.68L252 401.77L253.28 405.86L254.55 409.94L255.83 412.49L257.11 414.54L258.38 416.07L259.66 417.91L260.68 418.11L261.07 408.92L261.83 405.86L262.6 407.9L263.49 406.88L264.13 407.9L264.77 414.03L265.41 418.11L265.41 418.2Z" fill="#000"/>
<line x1="233.2" y1="410.5" x2="233.2" y2="418.7" stroke="#fff" stroke-width="0.8"/>
<line x1="237.2" y1="412" x2="237.2" y2="418.7" stroke="#fff" stroke-width="0.8"/>
<line x1="242" y1="414" x2="242" y2="418.7" stroke="#fff" stroke-width="0.8"/>
<line x1="244.4" y1="407" x2="244.4" y2="418.7" stroke="#fff" stroke-width="0.8"/>
<line x1="246.3" y1="412" x2="246.3" y2="418.7" stroke="#fff" stroke-width="0.8"/>
<line x1="248.3" y1="413" x2="248.3" y2="418.7" stroke="#fff" stroke-width="0.8"/>
<line x1="155.2" y1="414" x2="155.2" y2="418.7" stroke="#fff" stroke-width="0.8"/>
<line x1="158" y1="413.5" x2="158" y2="418.7" stroke="#fff" stroke-width="0.8"/>
<line x1="160.5" y1="414.5" x2="160.5" y2="418.7" stroke="#fff" stroke-width="0.8"/>
<line x1="55.6" y1="243.2" x2="290.7" y2="243.2" stroke="#a8a8a8" stroke-width="1"/>
<line x1="290.7" y1="243.2" x2="290.7" y2="418.7" stroke="#a8a8a8" stroke-width="1"/>
<line x1="55.6" y1="418.7" x2="290.7" y2="418.7" stroke="#585858" stroke-width="1"/>
<line x1="55.6" y1="242.7" x2="55.6" y2="419.2" stroke="#000" stroke-width="1"/>
<line x1="51.3" y1="249.9" x2="55.6" y2="249.9" stroke="#222" stroke-width="1"/>
<text x="24.9" y="254.52" font-size="12.9" fill="#111" stroke="#111" stroke-width="0.3" textLength="22.3" lengthAdjust="spacingAndGlyphs">0.25</text>
<line x1="51.3" y1="284.2" x2="55.6" y2="284.2" stroke="#222" stroke-width="1"/>
<text x="24.9" y="288.82" font-size="12.9" fill="#111" stroke="#111" stroke-width="0.3" textLength="22.3" lengthAdjust="spacingAndGlyphs">0.20</text>
<line x1="51.3" y1="317.8" x2="55.6" y2="317.8" stroke="#222" stroke-width="1"/>
<text x="24.9" y="322.42" font-size="12.9" fill="#111" stroke="#111" stroke-width="0.3" textLength="22.3" lengthAdjust="spacingAndGlyphs">0.15</text>
<line x1="51.3" y1="351.3" x2="55.6" y2="351.3" stroke="#222" stroke-width="1"/>
<text x="24.9" y="355.92" font-size="12.9" fill="#111" stroke="#111" stroke-width="0.3" textLength="22.3" lengthAdjust="spacingAndGlyphs">0.10</text>
<line x1="51.3" y1="384.9" x2="55.6" y2="384.9" stroke="#222" stroke-width="1"/>
<text x="24.9" y="389.52" font-size="12.9" fill="#111" stroke="#111" stroke-width="0.3" textLength="22.3" lengthAdjust="spacingAndGlyphs">0.05</text>
<line x1="51.3" y1="418.6" x2="55.6" y2="418.6" stroke="#222" stroke-width="1"/>
<text x="24.9" y="423.22" font-size="12.9" fill="#111" stroke="#111" stroke-width="0.3" textLength="22.3" lengthAdjust="spacingAndGlyphs">0.00</text>
<line x1="55.6" y1="418.7" x2="55.6" y2="423.2" stroke="#555" stroke-width="1"/>
<line x1="94.8" y1="418.7" x2="94.8" y2="423.2" stroke="#555" stroke-width="1"/>
<line x1="134" y1="418.7" x2="134" y2="423.2" stroke="#555" stroke-width="1"/>
<line x1="173.2" y1="418.7" x2="173.2" y2="423.2" stroke="#555" stroke-width="1"/>
<line x1="212.4" y1="418.7" x2="212.4" y2="423.2" stroke="#555" stroke-width="1"/>
<line x1="251.6" y1="418.7" x2="251.6" y2="423.2" stroke="#555" stroke-width="1"/>
<line x1="290.8" y1="418.7" x2="290.8" y2="423.2" stroke="#555" stroke-width="1"/>
<text x="10.8" y="402.4" font-size="11.3" fill="#000" stroke="#000" stroke-width="0.15" textLength="127.7" lengthAdjust="spacingAndGlyphs" transform="rotate(-90 10.8 402.4)">Transpiration in mm.h<tspan font-size="7.5" dy="-4.5">-1</tspan></text>
<text x="229.8" y="261.5" font-size="12" fill="#111" stroke="#111" stroke-width="0.12" textLength="40.9" lengthAdjust="spacingAndGlyphs">Tree A1</text>
<path d="M151.5 287.45 V284.55 Q151.5 282.75 153.3 282.75 H165.1 Q166.9 282.75 166.9 284.55 V287.45 M159.1 283.05 V277.55 M166.9 287.45 V284.55 Q166.9 282.75 168.7 282.75 H180.95 Q182.75 282.75 182.75 284.55 V287.45 M175 283.05 V277.55" fill="none" stroke="#444" stroke-width="1.3" stroke-linecap="butt"/>
<text x="162.75" y="272.75" font-size="11" fill="#111" stroke="#111" stroke-width="0.2" textLength="11.75" lengthAdjust="spacingAndGlyphs" transform="rotate(-90 162.75 272.75)">sg</text>
<text x="179" y="271" font-size="11" fill="#111" stroke="#111" stroke-width="0.2" textLength="12" lengthAdjust="spacingAndGlyphs" transform="rotate(-90 179 271)">su</text>
<path d="M231.6 371.5 V368.6 Q231.6 366.8 233.4 366.8 H245.5 Q247.3 366.8 247.3 368.6 V371.5 M239.6 367.1 V360.8 M247.3 371.5 V368.6 Q247.3 366.8 249.1 366.8 H261.3 Q263.1 366.8 263.1 368.6 V371.5 M255.4 367.1 V360.8" fill="none" stroke="#444" stroke-width="1.3" stroke-linecap="butt"/>
<text x="242.8" y="354.3" font-size="11" fill="#111" stroke="#111" stroke-width="0.2" textLength="11.5" lengthAdjust="spacingAndGlyphs" transform="rotate(-90 242.8 354.3)">sg</text>
<text x="259.9" y="353" font-size="11" fill="#111" stroke="#111" stroke-width="0.2" textLength="11" lengthAdjust="spacingAndGlyphs" transform="rotate(-90 259.9 353)">su</text>
</g>
<g id="p4">
<path d="M462.04 419.4V377.97h0.8V419.4zM462.54 419.4V375.57h0.8V419.4zM463.04 419.4V377.72h0.8V419.4zM463.54 419.4V378.87h0.8V419.4zM464.04 419.4V383.98h0.8V419.4zM464.54 419.4V391.76h0.8V419.4zM465.04 419.4V408.08h0.8V419.4zM465.54 419.4V416.18h0.8V419.4zM466.04 419.4V406.48h0.8V419.4zM466.54 419.4V400.64h0.8V419.4zM467.04 419.4V400.96h0.8V419.4zM467.54 419.4V401.17h0.8V419.4zM468.04 419.4V418.86h0.8V419.4zM461.66 419.4V376.17h0.8V419.4zM462.27 419.4V370.75h0.8V419.4zM462.87 419.4V376.17h0.8V419.4zM463.47 419.4V378.58h0.8V419.4zM464.08 419.4V380.99h0.8V419.4zM464.56 419.4V390.64h0.8V419.4zM464.92 419.4V402.7h0.8V419.4zM465.28 419.4V414.75h0.8V419.4zM465.76 419.4V417.16h0.8V419.4zM466.13 419.4V401.49h0.8V419.4zM466.73 419.4V399.68h0.8V419.4zM467.33 419.4V397.87h0.8V419.4zM467.69 419.4V400.28h0.8V419.4z" fill="#000"/>
<path d="M461.94 419.4L461.94 419.4L462.06 382.66L462.67 378.04L463.27 382.66L463.87 384.7L464.48 386.75L464.96 394.95L465.32 405.2L465.68 415.45L466.16 417.5L466.53 404.18L467.13 402.64L467.73 401.1L468.09 403.15L468.45 419.4L468.45 419.4Z" fill="#000"/>
<line x1="483.65" y1="396.06" x2="483.65" y2="419.4" stroke="#777" stroke-width="1"/>
<path d="M470.85 419.4V412.24h0.8V419.4zM471.35 419.4V412.46h0.8V419.4zM471.85 419.4V411.13h0.8V419.4zM472.35 419.4V410.59h0.8V419.4zM472.85 419.4V411.7h0.8V419.4zM473.35 419.4V413.16h0.8V419.4zM473.85 419.4V415.18h0.8V419.4zM474.35 419.4V416.18h0.8V419.4zM474.85 419.4V417.14h0.8V419.4zM475.35 419.4V415.38h0.8V419.4zM475.85 419.4V412.08h0.8V419.4zM476.35 419.4V408.25h0.8V419.4zM476.85 419.4V402.16h0.8V419.4zM477.35 419.4V397.1h0.8V419.4zM477.85 419.4V401.78h0.8V419.4zM478.35 419.4V403.19h0.8V419.4zM478.85 419.4V403.45h0.8V419.4zM479.35 419.4V400.8h0.8V419.4zM479.85 419.4V398.77h0.8V419.4zM480.35 419.4V401.5h0.8V419.4zM480.85 419.4V405.23h0.8V419.4zM481.35 419.4V411.31h0.8V419.4zM481.85 419.4V412.92h0.8V419.4zM482.35 419.4V412.99h0.8V419.4zM482.85 419.4V409.48h0.8V419.4zM483.35 419.4V402.64h0.8V419.4zM483.85 419.4V405.07h0.8V419.4zM484.35 419.4V418.75h0.8V419.4zM470.59 419.4V412.34h0.8V419.4zM471.55 419.4V411.74h0.8V419.4zM472.39 419.4V409.93h0.8V419.4zM473.12 419.4V412.34h0.8V419.4zM473.96 419.4V415.36h0.8V419.4zM474.81 419.4V417.16h0.8V419.4zM475.53 419.4V414.75h0.8V419.4zM476.37 419.4V407.52h0.8V419.4zM476.98 419.4V397.87h0.8V419.4zM477.46 419.4V396.67h0.8V419.4zM477.94 419.4V402.7h0.8V419.4zM478.54 419.4V401.49h0.8V419.4zM479.15 419.4V400.28h0.8V419.4zM479.75 419.4V397.87h0.8V419.4zM480.35 419.4V398.48h0.8V419.4zM480.83 419.4V405.11h0.8V419.4zM481.44 419.4V411.14h0.8V419.4zM482.04 419.4V413.55h0.8V419.4zM482.64 419.4V412.34h0.8V419.4zM483.73 419.4V396.67h0.8V419.4zM484.09 419.4V417.16h0.8V419.4z" fill="#000"/>
<path d="M470.75 419.4L470.75 419.4L470.99 413.4L471.95 412.89L472.79 411.35L473.52 413.4L474.36 415.96L475.21 417.5L475.93 415.45L476.77 409.3L477.38 401.1L477.86 400.08L478.34 405.2L478.94 404.18L479.55 403.15L480.15 401.1L480.75 401.61L481.23 407.25L481.84 412.38L482.44 414.43L483.04 413.4L484.13 400.08L484.49 417.5L484.85 419.4L484.85 419.4Z" fill="#000"/>
<path d="M524.57 419.4V396.08h0.8V419.4zM525.07 419.4V392.38h0.8V419.4zM525.57 419.4V399.17h0.8V419.4zM526.07 419.4V403.13h0.8V419.4zM526.57 419.4V397.6h0.8V419.4zM527.07 419.4V392.25h0.8V419.4zM527.57 419.4V384.45h0.8V419.4zM528.07 419.4V392.94h0.8V419.4zM528.57 419.4V393.97h0.8V419.4zM529.07 419.4V393.26h0.8V419.4zM529.57 419.4V400.52h0.8V419.4zM530.07 419.4V406.13h0.8V419.4zM530.57 419.4V397.77h0.8V419.4zM531.07 419.4V389.75h0.8V419.4zM531.57 419.4V389.19h0.8V419.4zM532.07 419.4V388.88h0.8V419.4zM532.57 419.4V382.97h0.8V419.4zM533.07 419.4V379.29h0.8V419.4zM533.57 419.4V381.51h0.8V419.4zM534.07 419.4V382.27h0.8V419.4zM534.57 419.4V386.11h0.8V419.4zM524.31 419.4V392.45h0.8V419.4zM525.03 419.4V391.84h0.8V419.4zM525.64 419.4V397.87h0.8V419.4zM526.24 419.4V405.11h0.8V419.4zM526.84 419.4V390.64h0.8V419.4zM527.44 419.4V382.2h0.8V419.4zM528.05 419.4V390.64h0.8V419.4zM528.65 419.4V393.05h0.8V419.4zM529.13 419.4V391.84h0.8V419.4zM529.61 419.4V400.28h0.8V419.4zM530.1 419.4V406.31h0.8V419.4zM530.7 419.4V391.84h0.8V419.4zM531.3 419.4V388.23h0.8V419.4zM532.03 419.4V389.43h0.8V419.4zM532.75 419.4V379.79h0.8V419.4zM533.47 419.4V374.97h0.8V419.4zM534.08 419.4V380.99h0.8V419.4zM534.68 419.4V387.02h0.8V419.4zM534.92 419.4V412.34h0.8V419.4z" fill="#000"/>
<path d="M524.47 419.4L524.47 419.4L524.71 396.49L525.43 395.98L526.04 401.1L526.64 407.25L527.24 394.95L527.84 387.78L528.45 394.95L529.05 397L529.53 395.98L530.01 403.15L530.5 408.28L531.1 395.98L531.7 392.9L532.43 393.93L533.15 385.73L533.87 381.63L534.48 386.75L535.08 391.88L535.32 413.4L535.32 419.4L535.32 419.4Z" fill="#000"/>
<line x1="528.7" y1="412.5" x2="528.7" y2="419.9" stroke="#fff" stroke-width="0.9"/>
<line x1="532.6" y1="412.5" x2="532.6" y2="419.9" stroke="#fff" stroke-width="0.9"/>
<line x1="535.3" y1="414" x2="535.3" y2="419.9" stroke="#fff" stroke-width="0.9"/>
<path d="M544.97 419.58 L544.97 386.42 L545.57 386.78 L548.82 405.11 L548.82 415.96 L546.17 417.16 L545.69 419.58 Z" fill="#000"/>
<line x1="349.6" y1="243" x2="584.4" y2="243" stroke="#6a6a6a" stroke-width="1"/>
<line x1="584.4" y1="243" x2="584.4" y2="420" stroke="#111" stroke-width="1"/>
<line x1="349.6" y1="420" x2="584.4" y2="420" stroke="#a6a6a6" stroke-width="1.5"/>
<line x1="349.6" y1="242.5" x2="349.6" y2="420.5" stroke="#000" stroke-width="1"/>
<line x1="345.2" y1="250.2" x2="349.6" y2="250.2" stroke="#222" stroke-width="1"/>
<text x="315.5" y="254.46" font-size="11.9" fill="#111" stroke="#111" stroke-width="0.12" textLength="23.75" lengthAdjust="spacingAndGlyphs">0.25</text>
<line x1="345.2" y1="284" x2="349.6" y2="284" stroke="#222" stroke-width="1"/>
<text x="315.5" y="288.26" font-size="11.9" fill="#111" stroke="#111" stroke-width="0.12" textLength="23.75" lengthAdjust="spacingAndGlyphs">0.20</text>
<line x1="345.2" y1="318" x2="349.6" y2="318" stroke="#222" stroke-width="1"/>
<text x="315.5" y="322.26" font-size="11.9" fill="#111" stroke="#111" stroke-width="0.12" textLength="23.75" lengthAdjust="spacingAndGlyphs">0.15</text>
<line x1="345.2" y1="351.9" x2="349.6" y2="351.9" stroke="#222" stroke-width="1"/>
<text x="315.5" y="356.16" font-size="11.9" fill="#111" stroke="#111" stroke-width="0.12" textLength="23.75" lengthAdjust="spacingAndGlyphs">0.10</text>
<line x1="345.2" y1="386" x2="349.6" y2="386" stroke="#222" stroke-width="1"/>
<text x="315.5" y="390.26" font-size="11.9" fill="#111" stroke="#111" stroke-width="0.12" textLength="23.75" lengthAdjust="spacingAndGlyphs">0.05</text>
<line x1="345.2" y1="419.7" x2="349.6" y2="419.7" stroke="#222" stroke-width="1"/>
<text x="315.5" y="423.96" font-size="11.9" fill="#111" stroke="#111" stroke-width="0.12" textLength="23.75" lengthAdjust="spacingAndGlyphs">0.00</text>
<line x1="349.6" y1="420" x2="349.6" y2="424.5" stroke="#555" stroke-width="1"/>
<line x1="388.75" y1="420" x2="388.75" y2="424.5" stroke="#555" stroke-width="1"/>
<line x1="427.9" y1="420" x2="427.9" y2="424.5" stroke="#555" stroke-width="1"/>
<line x1="467.05" y1="420" x2="467.05" y2="424.5" stroke="#555" stroke-width="1"/>
<line x1="506.2" y1="420" x2="506.2" y2="424.5" stroke="#555" stroke-width="1"/>
<line x1="545.35" y1="420" x2="545.35" y2="424.5" stroke="#555" stroke-width="1"/>
<line x1="584.5" y1="420" x2="584.5" y2="424.5" stroke="#555" stroke-width="1"/>
<text x="529.8" y="260.5" font-size="12" fill="#111" stroke="#111" stroke-width="0.12" textLength="40.6" lengthAdjust="spacingAndGlyphs">Tree B1</text>
<path d="M449 367.5 V363.7 Q449 361.9 450.8 361.9 H462.7 Q464.5 361.9 464.5 363.7 V367.5 M456.9 362.2 V356.3 M464.5 367.5 V363.7 Q464.5 361.9 466.3 361.9 H478.2 Q480 361.9 480 363.7 V367.5 M472.3 362.2 V356.3" fill="none" stroke="#444" stroke-width="1.3" stroke-linecap="butt"/>
<text x="460.8" y="350.4" font-size="11" fill="#111" stroke="#111" stroke-width="0.2" textLength="11.75" lengthAdjust="spacingAndGlyphs" transform="rotate(-90 460.8 350.4)">sg</text>
<text x="476.9" y="349.4" font-size="11" fill="#111" stroke="#111" stroke-width="0.2" textLength="11.5" lengthAdjust="spacingAndGlyphs" transform="rotate(-90 476.9 349.4)">su</text>
<path d="M525.7 376.2 V373.4 Q525.7 371.6 527.5 371.6 H539.3 Q541.1 371.6 541.1 373.4 V376.2 M532.9 371.9 V366.3 M541.1 376.2 V373.4 Q541.1 371.6 542.9 371.6 H554.5 Q556.3 371.6 556.3 373.4 V376.2 M548.6 371.9 V366.3" fill="none" stroke="#444" stroke-width="1.3" stroke-linecap="butt"/>
<text x="535.9" y="359.9" font-size="11" fill="#111" stroke="#111" stroke-width="0.2" textLength="12.1" lengthAdjust="spacingAndGlyphs" transform="rotate(-90 535.9 359.9)">sg</text>
<text x="552.8" y="358.3" font-size="11" fill="#111" stroke="#111" stroke-width="0.2" textLength="11.3" lengthAdjust="spacingAndGlyphs" transform="rotate(-90 552.8 358.3)">su</text>
</g>
<g id="p5">
<path d="M169.35 649V578.3h0.8V649zM169.85 649V585.28h0.8V649zM170.35 649V609.9h0.8V649zM170.85 649V618.35h0.8V649zM171.35 649V632.79h0.8V649zM171.85 649V641.22h0.8V649zM172.35 649V639.18h0.8V649zM172.85 649V641.77h0.8V649zM173.35 649V645.4h0.8V649zM173.85 649V643.66h0.8V649zM174.35 649V633.1h0.8V649zM174.85 649V626.64h0.8V649zM175.35 649V626.92h0.8V649zM175.85 649V634.63h0.8V649zM176.35 649V637.96h0.8V649zM176.85 649V642.97h0.8V649zM177.35 649V643.75h0.8V649zM177.85 649V643.15h0.8V649zM178.35 649V643.33h0.8V649zM178.85 649V640.59h0.8V649zM179.35 649V636.57h0.8V649zM179.85 649V636.82h0.8V649zM180.35 649V640.46h0.8V649zM180.85 649V642.38h0.8V649zM181.35 649V643.37h0.8V649zM181.85 649V643.42h0.8V649zM182.35 649V640.38h0.8V649zM182.85 649V636.17h0.8V649zM183.35 649V631.59h0.8V649zM183.85 649V620.84h0.8V649zM184.35 649V619.95h0.8V649zM184.85 649V619.75h0.8V649zM185.35 649V622.45h0.8V649zM185.85 649V617.53h0.8V649zM186.35 649V620.3h0.8V649zM186.85 649V620.32h0.8V649zM187.35 649V617.89h0.8V649zM187.85 649V620.36h0.8V649zM188.35 649V622.35h0.8V649zM188.85 649V624.36h0.8V649zM189.35 649V623.55h0.8V649zM189.85 649V626.21h0.8V649zM190.35 649V630.89h0.8V649zM190.85 649V644.23h0.8V649zM169.01 649V577.52h0.8V649zM169.5 649V574.26h0.8V649zM169.99 649V588.94h0.8V649zM170.48 649V608.52h0.8V649zM170.97 649V621.57h0.8V649zM171.46 649V634.62h0.8V649zM171.95 649V641.14h0.8V649zM172.6 649V637.88h0.8V649zM173.09 649V644.4h0.8V649zM173.74 649V646.04h0.8V649zM174.4 649V631.35h0.8V649zM175.05 649V620.75h0.8V649zM175.7 649V631.35h0.8V649zM176.35 649V637.88h0.8V649zM177.01 649V644.4h0.8V649zM177.82 649V642.77h0.8V649zM178.64 649V641.96h0.8V649zM179.45 649V633.8h0.8V649zM180.11 649V637.88h0.8V649zM180.92 649V642.77h0.8V649zM181.74 649V643.59h0.8V649zM182.55 649V637.88h0.8V649zM183.37 649V631.35h0.8V649zM183.86 649V619.93h0.8V649zM184.67 649V619.12h0.8V649zM185.49 649V618.3h0.8V649zM186.63 649V614.23h0.8V649zM187.45 649V618.3h0.8V649zM188.26 649V619.93h0.8V649zM188.91 649V624.83h0.8V649zM189.73 649V619.93h0.8V649zM190.38 649V631.35h0.8V649zM190.87 649V644.4h0.8V649z" fill="#000"/>
<path d="M169.25 649L169.25 648.98L169.41 590.39L169.9 587.71L170.39 599.75L170.88 615.8L171.37 626.5L171.86 637.21L172.35 642.56L173 639.88L173.49 645.23L174.14 646.57L174.8 634.53L175.45 625.84L176.1 634.53L176.75 639.88L177.41 645.23L178.22 643.89L179.04 643.23L179.85 636.54L180.51 639.88L181.32 643.89L182.14 644.56L182.95 639.88L183.77 634.53L184.26 625.17L185.07 624.5L185.89 623.83L187.03 620.48L187.85 623.83L188.66 625.17L189.31 629.18L190.13 625.17L190.78 634.53L191.27 645.23L191.6 648.98L191.6 649Z" fill="#000"/>
<path d="M231.89 649V625.5h0.8V649zM232.39 649V624.67h0.8V649zM232.89 649V621.26h0.8V649zM233.39 649V622.78h0.8V649zM233.89 649V623.75h0.8V649zM234.39 649V623.6h0.8V649zM234.89 649V616.31h0.8V649zM235.39 649V623.09h0.8V649zM235.89 649V628.14h0.8V649zM236.39 649V632.37h0.8V649zM236.89 649V637.34h0.8V649zM237.39 649V635.19h0.8V649zM237.89 649V625.22h0.8V649zM238.39 649V624.23h0.8V649zM238.89 649V617.36h0.8V649zM239.39 649V609.21h0.8V649zM239.89 649V603.44h0.8V649zM240.39 649V603.19h0.8V649zM240.89 649V604.24h0.8V649zM241.39 649V608.64h0.8V649zM241.89 649V609.31h0.8V649zM242.39 649V605.24h0.8V649zM242.89 649V610.33h0.8V649zM243.39 649V615.6h0.8V649zM243.89 649V614.63h0.8V649zM244.39 649V606.52h0.8V649zM244.89 649V599.38h0.8V649zM245.39 649V596.16h0.8V649zM245.89 649V593.16h0.8V649zM246.39 649V602.18h0.8V649zM246.89 649V597.07h0.8V649zM247.39 649V598.08h0.8V649zM247.89 649V604.36h0.8V649zM248.39 649V597.95h0.8V649zM248.89 649V620.2h0.8V649zM231.71 649V624.83h0.8V649zM232.69 649V621.57h0.8V649zM233.51 649V618.3h0.8V649zM234.32 649V621.57h0.8V649zM234.98 649V615.04h0.8V649zM235.63 649V624.83h0.8V649zM236.28 649V631.35h0.8V649zM237.1 649V636.25h0.8V649zM237.91 649V624.83h0.8V649zM238.73 649V616.67h0.8V649zM239.54 649V605.25h0.8V649zM240.36 649V597.91h0.8V649zM241.18 649V603.62h0.8V649zM241.99 649V605.25h0.8V649zM242.81 649V604.44h0.8V649zM243.62 649V610.15h0.8V649zM244.44 649V601.99h0.8V649zM245.25 649V597.1h0.8V649zM246.07 649V591.39h0.8V649zM246.89 649V595.46h0.8V649zM247.7 649V596.28h0.8V649zM248.52 649V596.28h0.8V649zM249.01 649V624.83h0.8V649z" fill="#000"/>
<path d="M231.79 649L231.79 648.98L232.11 629.18L233.09 626.5L233.91 623.83L234.72 626.5L235.38 621.15L236.03 629.18L236.68 634.53L237.5 638.54L238.31 629.18L239.13 622.49L239.94 613.13L240.76 607.11L241.58 611.79L242.39 613.13L243.21 612.46L244.02 617.14L244.84 610.45L245.65 606.44L246.47 601.76L247.29 605.1L248.1 605.77L248.92 605.77L249.41 629.18L249.41 648.98L249.41 649Z" fill="#000"/>
<line x1="265.72" y1="611.78" x2="265.72" y2="649" stroke="#777" stroke-width="1"/>
<path d="M256.03 649V642.17h0.8V649zM256.53 649V641.95h0.8V649zM257.03 649V641.5h0.8V649zM257.53 649V642.44h0.8V649zM258.03 649V642.84h0.8V649zM258.53 649V642.7h0.8V649zM259.03 649V641.85h0.8V649zM259.53 649V639.31h0.8V649zM260.03 649V634.88h0.8V649zM260.53 649V626.44h0.8V649zM261.03 649V622.79h0.8V649zM261.53 649V630.82h0.8V649zM262.03 649V632.05h0.8V649zM262.53 649V630h0.8V649zM263.03 649V626.83h0.8V649zM263.53 649V630.68h0.8V649zM264.03 649V630.95h0.8V649zM264.53 649V628.41h0.8V649zM265.03 649V627.81h0.8V649zM265.53 649V626.4h0.8V649zM266.03 649V630.57h0.8V649zM255.86 649V641.96h0.8V649zM256.67 649V640.33h0.8V649zM257.49 649V641.96h0.8V649zM258.79 649V642.77h0.8V649zM259.61 649V637.88h0.8V649zM260.43 649V628.09h0.8V649zM260.91 649V619.93h0.8V649zM261.57 649V631.35h0.8V649zM262.38 649V628.09h0.8V649zM263.2 649V626.46h0.8V649zM264.01 649V627.28h0.8V649zM264.83 649V625.64h0.8V649zM265.97 649V626.46h0.8V649z" fill="#000"/>
<path d="M255.93 649L255.93 648.98L256.26 643.23L257.07 641.89L257.89 643.23L259.19 643.89L260.01 639.88L260.83 631.85L261.31 625.17L261.97 634.53L262.78 631.85L263.6 630.52L264.41 631.19L265.23 629.85L266.37 630.52L266.7 648.98L266.7 649Z" fill="#000"/>
<path d="M244.51 649.62 L244.84 644.40 L246.47 643.10 L247.77 637.88 L249.41 635.43 L250.06 649.62 Z" fill="#fff"/>
<line x1="234.6" y1="638" x2="234.6" y2="649.5" stroke="#fff" stroke-width="0.9"/>
<line x1="238.9" y1="636.5" x2="238.9" y2="649.5" stroke="#fff" stroke-width="0.9"/>
<line x1="241.8" y1="639" x2="241.8" y2="649.5" stroke="#fff" stroke-width="0.9"/>
<line x1="175.5" y1="646" x2="175.5" y2="649.5" stroke="#fff" stroke-width="0.9"/>
<line x1="177" y1="646.5" x2="177" y2="649.5" stroke="#fff" stroke-width="0.9"/>
<line x1="186" y1="647" x2="186" y2="649.5" stroke="#fff" stroke-width="0.9"/>
<line x1="188" y1="647" x2="188" y2="649.5" stroke="#fff" stroke-width="0.9"/>
<line x1="262.5" y1="646.5" x2="262.5" y2="649.5" stroke="#fff" stroke-width="0.9"/>
<line x1="264.5" y1="646.5" x2="264.5" y2="649.5" stroke="#fff" stroke-width="0.9"/>
<line x1="56.2" y1="454.9" x2="292" y2="454.9" stroke="#4a4a4a" stroke-width="1.4"/>
<line x1="292" y1="454.9" x2="292" y2="649.3" stroke="#606060" stroke-width="1.4"/>
<line x1="56.2" y1="649.3" x2="292" y2="649.3" stroke="#111" stroke-width="1.1"/>
<line x1="56.2" y1="454.4" x2="56.2" y2="649.8" stroke="#606060" stroke-width="1.4"/>
<line x1="52.2" y1="461.9" x2="56.2" y2="461.9" stroke="#222" stroke-width="1"/>
<text x="26" y="466.91" font-size="14" fill="#111" stroke="#111" stroke-width="0.3" textLength="21.3" lengthAdjust="spacingAndGlyphs">0.25</text>
<line x1="52.2" y1="499.2" x2="56.2" y2="499.2" stroke="#222" stroke-width="1"/>
<text x="26" y="504.21" font-size="14" fill="#111" stroke="#111" stroke-width="0.3" textLength="21.3" lengthAdjust="spacingAndGlyphs">0.20</text>
<line x1="52.2" y1="536.6" x2="56.2" y2="536.6" stroke="#222" stroke-width="1"/>
<text x="26" y="541.61" font-size="14" fill="#111" stroke="#111" stroke-width="0.3" textLength="21.3" lengthAdjust="spacingAndGlyphs">0.15</text>
<line x1="52.2" y1="574" x2="56.2" y2="574" stroke="#222" stroke-width="1"/>
<text x="26" y="579.01" font-size="14" fill="#111" stroke="#111" stroke-width="0.3" textLength="21.3" lengthAdjust="spacingAndGlyphs">0.10</text>
<line x1="52.2" y1="611.4" x2="56.2" y2="611.4" stroke="#222" stroke-width="1"/>
<text x="26" y="616.41" font-size="14" fill="#111" stroke="#111" stroke-width="0.3" textLength="21.3" lengthAdjust="spacingAndGlyphs">0.05</text>
<line x1="52.2" y1="649.1" x2="56.2" y2="649.1" stroke="#222" stroke-width="1"/>
<text x="26" y="654.11" font-size="14" fill="#111" stroke="#111" stroke-width="0.3" textLength="21.3" lengthAdjust="spacingAndGlyphs">0.00</text>
<line x1="56.2" y1="649.3" x2="56.2" y2="653.9" stroke="#555" stroke-width="1"/>
<line x1="95.47" y1="649.3" x2="95.47" y2="653.9" stroke="#555" stroke-width="1"/>
<line x1="134.74" y1="649.3" x2="134.74" y2="653.9" stroke="#555" stroke-width="1"/>
<line x1="174.01" y1="649.3" x2="174.01" y2="653.9" stroke="#555" stroke-width="1"/>
<line x1="213.28" y1="649.3" x2="213.28" y2="653.9" stroke="#555" stroke-width="1"/>
<line x1="252.55" y1="649.3" x2="252.55" y2="653.9" stroke="#555" stroke-width="1"/>
<line x1="291.82" y1="649.3" x2="291.82" y2="653.9" stroke="#555" stroke-width="1"/>
<text x="40.85" y="674.6" font-size="14.6" fill="#111" stroke="#111" stroke-width="0.3" textLength="33.1" lengthAdjust="spacingAndGlyphs">2008.0</text>
<text x="80.05" y="674.6" font-size="14.6" fill="#111" stroke="#111" stroke-width="0.3" textLength="33.1" lengthAdjust="spacingAndGlyphs">2008.5</text>
<text x="119.45" y="674.6" font-size="14.6" fill="#111" stroke="#111" stroke-width="0.3" textLength="33.1" lengthAdjust="spacingAndGlyphs">2009.0</text>
<text x="158.75" y="674.6" font-size="14.6" fill="#111" stroke="#111" stroke-width="0.3" textLength="33.1" lengthAdjust="spacingAndGlyphs">2009.5</text>
<text x="198.05" y="674.6" font-size="14.6" fill="#111" stroke="#111" stroke-width="0.3" textLength="33.1" lengthAdjust="spacingAndGlyphs">2010.0</text>
<text x="237.15" y="674.6" font-size="14.6" fill="#111" stroke="#111" stroke-width="0.3" textLength="33.1" lengthAdjust="spacingAndGlyphs">2010.5</text>
<text x="276.65" y="674.6" font-size="14.6" fill="#111" stroke="#111" stroke-width="0.3" textLength="33.1" lengthAdjust="spacingAndGlyphs">2011.0</text>
<text x="10.5" y="611.2" font-size="11.3" fill="#000" stroke="#000" stroke-width="0.15" textLength="126.1" lengthAdjust="spacingAndGlyphs" transform="rotate(-90 10.5 611.2)">Transpiration in mm.h<tspan font-size="7.5" dy="-4.5">-1</tspan></text>
<text x="127.7" y="698.6" font-size="12.6" fill="#111" stroke="#111" stroke-width="0.12" textLength="86.7" lengthAdjust="spacingAndGlyphs">Time in the year</text>
<text x="232.1" y="473.7" font-size="12.3" fill="#111" stroke="#111" stroke-width="0.12" textLength="41.8" lengthAdjust="spacingAndGlyphs">Tree C1</text>
<path d="M155.7 569.7 V566.3 Q155.7 564.5 157.5 564.5 H169.4 Q171.2 564.5 171.2 566.3 V569.7 M163.4 564.8 V559.2 M171.2 569.7 V566.3 Q171.2 564.5 173 564.5 H184.4 Q186.2 564.5 186.2 566.3 V569.7 M179 564.8 V559.2" fill="none" stroke="#444" stroke-width="1.3" stroke-linecap="butt"/>
<text x="167.2" y="552.7" font-size="11" fill="#111" stroke="#111" stroke-width="0.2" textLength="11.4" lengthAdjust="spacingAndGlyphs" transform="rotate(-90 167.2 552.7)">sg</text>
<text x="183.1" y="551.7" font-size="11" fill="#111" stroke="#111" stroke-width="0.2" textLength="10.9" lengthAdjust="spacingAndGlyphs" transform="rotate(-90 183.1 551.7)">su</text>
<path d="M231.8 578.9 V575.8 Q231.8 574 233.6 574 H245.8 Q247.6 574 247.6 575.8 V578.9 M239.6 574.3 V568.7 M247.6 578.9 V575.8 Q247.6 574 249.4 574 H261 Q262.8 574 262.8 575.8 V578.9 M255.4 574.3 V568.7" fill="none" stroke="#444" stroke-width="1.3" stroke-linecap="butt"/>
<text x="243.3" y="561.5" font-size="11" fill="#111" stroke="#111" stroke-width="0.2" textLength="11.4" lengthAdjust="spacingAndGlyphs" transform="rotate(-90 243.3 561.5)">sg</text>
<text x="259.8" y="560.4" font-size="11" fill="#111" stroke="#111" stroke-width="0.2" textLength="11.4" lengthAdjust="spacingAndGlyphs" transform="rotate(-90 259.8 560.4)">su</text>
</g>
<g id="p6">
<line x1="379.9" y1="481.4" x2="379.9" y2="505" stroke="#777" stroke-width="1.2"/>
<path d="M379.22 649.00 L379.36 503.37 L380.64 503.37 L381.35 511.88 L382.20 517.55 L382.48 528.90 L383.05 517.55 L383.48 500.25 L383.90 511.88 L384.18 516.13 L384.89 523.94 L385.60 526.06 L386.03 548.76 L386.17 649.00 Z" fill="#000"/>
<path d="M387.16 649.00 L387.45 560.11 L388.16 518.26 L388.87 526.06 L389.57 527.48 L390.14 543.09 L390.57 560.11 L390.71 649.00 Z" fill="#000"/>
<line x1="391" y1="541" x2="391" y2="649" stroke="#6a6a6a" stroke-width="1.1"/>
<line x1="459.2" y1="463.4" x2="459.2" y2="486" stroke="#555" stroke-width="1.3"/>
<line x1="459.7" y1="481" x2="459.7" y2="499" stroke="#000" stroke-width="1.7"/>
<line x1="456.8" y1="491.9" x2="456.8" y2="510" stroke="#808080" stroke-width="0.9"/>
<path d="M447.20 649.00 L447.50 590.00 L447.90 587.20 L448.50 600.00 L448.70 643.00 L450.10 644.00 L450.10 649.00 Z" fill="#000"/>
<path d="M450.10 649.00 L450.20 556.00 L451.30 550.00 L452.50 529.00 L453.50 524.50 L454.20 531.00 L454.90 532.00 L455.60 528.80 L456.30 512.00 L457.00 506.00 L458.40 488.00 L459.50 483.40 L460.40 497.60 L461.10 511.70 L462.20 520.20 L463.40 528.80 L464.40 534.40 L465.50 540.10 L465.40 560.00 L466.10 572.30 L467.10 594.70 L468.30 612.60 L469.00 620.00 L469.20 649.00 Z" fill="#000"/>
<line x1="470.9" y1="543" x2="470.9" y2="562" stroke="#777" stroke-width="1"/>
<path d="M470.30 649.00 L470.40 560.00 L471.60 560.00 L472.00 649.00 Z" fill="#000"/>
<path d="M472.50 649.00 L472.50 624.70 L474.00 600.00 L474.40 593.00 L474.80 600.00 L475.50 607.20 L476.60 624.70 L477.90 633.50 L478.50 635.50 L478.50 649.00 Z" fill="#000"/>
<line x1="479" y1="533" x2="479" y2="570" stroke="#666" stroke-width="0.9"/>
<line x1="480.4" y1="535" x2="480.4" y2="570" stroke="#000" stroke-width="0.9"/>
<line x1="481.8" y1="525.2" x2="481.8" y2="570" stroke="#555" stroke-width="1"/>
<line x1="485.1" y1="530.9" x2="485.1" y2="570" stroke="#222" stroke-width="1"/>
<path d="M478.40 649.00 L478.40 556.00 L479.30 552.00 L479.90 560.00 L480.80 553.00 L481.30 556.00 L482.20 550.00 L482.80 560.00 L483.60 568.00 L484.40 562.00 L485.10 548.00 L485.80 552.00 L486.00 649.00 Z" fill="#000"/>
<line x1="486.7" y1="573.5" x2="486.7" y2="633.5" stroke="#777" stroke-width="0.8"/>
<line x1="483.6" y1="587" x2="483.6" y2="623" stroke="#666" stroke-width="0.7"/>
<line x1="464" y1="625" x2="464" y2="649" stroke="#888" stroke-width="0.6"/>
<path d="M480.20 649.50 L480.20 642.00 L482.00 642.00 L482.00 649.50 Z" fill="#fff"/>
<path d="M462.00 649.50 L462.00 645.00 L463.00 645.00 L463.00 649.50 Z" fill="#fff"/>
<line x1="526.9" y1="578.4" x2="526.9" y2="649" stroke="#777" stroke-width="1"/>
<line x1="528.9" y1="557.1" x2="528.9" y2="600" stroke="#808080" stroke-width="1.5"/>
<line x1="530.6" y1="562.8" x2="530.6" y2="580" stroke="#777" stroke-width="1"/>
<path d="M527.06 649.00 L527.06 596.13 L528.06 587.62 L529.05 577.70 L529.90 570.60 L530.61 564.93 L531.32 583.37 L531.89 618.83 L532.45 640.11 L533.02 649.00 Z" fill="#000"/>
<line x1="532.7" y1="633" x2="532.7" y2="646" stroke="#888" stroke-width="0.9"/>
<path d="M533.87 649.00 L534.01 597.55 L534.44 560.67 L535.01 546.49 L535.57 537.27 L536.00 542.23 L536.43 549.33 L536.99 556.42 L537.56 566.35 L538.13 590.46 L538.41 608.90 L538.70 618.83 L539.40 628.76 L540.40 640.11 L541.25 649.00 Z" fill="#000"/>
<line x1="533.6" y1="560.4" x2="533.6" y2="600" stroke="#555" stroke-width="0.8"/>
<line x1="541.2" y1="609.6" x2="541.2" y2="649" stroke="#777" stroke-width="1.3"/>
<line x1="539.5" y1="614" x2="539.5" y2="628" stroke="#888" stroke-width="0.8"/>
<line x1="537.3" y1="634" x2="537.3" y2="647" stroke="#fff" stroke-width="0.6"/>
<path d="M552.40 649.00 L553.20 633.70 L554.00 649.00 Z" fill="#000"/>
<line x1="554.4" y1="629.5" x2="554.4" y2="649" stroke="#222" stroke-width="0.8"/>
<line x1="556.4" y1="603.2" x2="556.4" y2="649" stroke="#111" stroke-width="0.9"/>
<path d="M555.40 649.00 L555.60 645.80 L557.20 645.80 L557.40 649.00 Z" fill="#000"/>
<line x1="349.3" y1="453.7" x2="588.2" y2="453.7" stroke="#111" stroke-width="1.1"/>
<line x1="588.2" y1="453.7" x2="588.2" y2="649.3" stroke="#555" stroke-width="1.4"/>
<line x1="349.3" y1="649.3" x2="588.2" y2="649.3" stroke="#111" stroke-width="1.1"/>
<line x1="349.3" y1="453.2" x2="349.3" y2="649.8" stroke="#606060" stroke-width="1.4"/>
<line x1="344.3" y1="460.9" x2="349.3" y2="460.9" stroke="#222" stroke-width="1"/>
<text x="316.1" y="465.6" font-size="14.8" fill="#111" stroke="#111" stroke-width="0.3" textLength="22.3" lengthAdjust="spacingAndGlyphs">0.25</text>
<line x1="344.3" y1="498.4" x2="349.3" y2="498.4" stroke="#222" stroke-width="1"/>
<text x="316.1" y="503.1" font-size="14.8" fill="#111" stroke="#111" stroke-width="0.3" textLength="22.3" lengthAdjust="spacingAndGlyphs">0.20</text>
<line x1="344.3" y1="536" x2="349.3" y2="536" stroke="#222" stroke-width="1"/>
<text x="316.1" y="540.7" font-size="14.8" fill="#111" stroke="#111" stroke-width="0.3" textLength="22.3" lengthAdjust="spacingAndGlyphs">0.15</text>
<line x1="344.3" y1="573.8" x2="349.3" y2="573.8" stroke="#222" stroke-width="1"/>
<text x="316.1" y="578.5" font-size="14.8" fill="#111" stroke="#111" stroke-width="0.3" textLength="22.3" lengthAdjust="spacingAndGlyphs">0.10</text>
<line x1="344.3" y1="611.4" x2="349.3" y2="611.4" stroke="#222" stroke-width="1"/>
<text x="316.1" y="616.1" font-size="14.8" fill="#111" stroke="#111" stroke-width="0.3" textLength="22.3" lengthAdjust="spacingAndGlyphs">0.05</text>
<line x1="344.3" y1="649" x2="349.3" y2="649" stroke="#222" stroke-width="1"/>
<text x="316.1" y="653.7" font-size="14.8" fill="#111" stroke="#111" stroke-width="0.3" textLength="22.3" lengthAdjust="spacingAndGlyphs">0.00</text>
<line x1="349.3" y1="649.3" x2="349.3" y2="654.7" stroke="#555" stroke-width="1"/>
<line x1="389.05" y1="649.3" x2="389.05" y2="654.7" stroke="#555" stroke-width="1"/>
<line x1="428.8" y1="649.3" x2="428.8" y2="654.7" stroke="#555" stroke-width="1"/>
<line x1="468.55" y1="649.3" x2="468.55" y2="654.7" stroke="#555" stroke-width="1"/>
<line x1="508.3" y1="649.3" x2="508.3" y2="654.7" stroke="#555" stroke-width="1"/>
<line x1="548.05" y1="649.3" x2="548.05" y2="654.7" stroke="#555" stroke-width="1"/>
<line x1="587.8" y1="649.3" x2="587.8" y2="654.7" stroke="#555" stroke-width="1"/>
<text x="331.5" y="675.5" font-size="14.5" fill="#111" stroke="#111" stroke-width="0.3" textLength="36.5" lengthAdjust="spacingAndGlyphs">2008.0</text>
<text x="371.25" y="675.5" font-size="14.5" fill="#111" stroke="#111" stroke-width="0.3" textLength="36.5" lengthAdjust="spacingAndGlyphs">2008.5</text>
<text x="411.25" y="675.5" font-size="14.5" fill="#111" stroke="#111" stroke-width="0.3" textLength="36.5" lengthAdjust="spacingAndGlyphs">2009.0</text>
<text x="451.05" y="675.5" font-size="14.5" fill="#111" stroke="#111" stroke-width="0.3" textLength="36.5" lengthAdjust="spacingAndGlyphs">2009.5</text>
<text x="490.95" y="675.5" font-size="14.5" fill="#111" stroke="#111" stroke-width="0.3" textLength="36.5" lengthAdjust="spacingAndGlyphs">2010.0</text>
<text x="530.75" y="675.5" font-size="14.5" fill="#111" stroke="#111" stroke-width="0.3" textLength="36.5" lengthAdjust="spacingAndGlyphs">2010.5</text>
<text x="570.55" y="675.5" font-size="14.5" fill="#111" stroke="#111" stroke-width="0.3" textLength="36.5" lengthAdjust="spacingAndGlyphs">2011.0</text>
<text x="417.8" y="702.1" font-size="12.3" fill="#111" stroke="#111" stroke-width="0.12" textLength="87.8" lengthAdjust="spacingAndGlyphs">Time in the year</text>
<text x="528.6" y="475.4" font-size="12.3" fill="#111" stroke="#111" stroke-width="0.12" textLength="42.1" lengthAdjust="spacingAndGlyphs">Tree D1</text>
<path d="M444.3 485.5 V482.3 Q444.3 480.5 446.1 480.5 H457.3 Q459.1 480.5 459.1 482.3 V485.5 M451.8 480.8 V475.6 M459.1 485.5 V482.3 Q459.1 480.5 460.9 480.5 H473 Q474.8 480.5 474.8 482.3 V485.5 M467.4 480.8 V475.6" fill="none" stroke="#444" stroke-width="1.3" stroke-linecap="butt"/>
<text x="455.4" y="468.9" font-size="11" fill="#111" stroke="#111" stroke-width="0.2" textLength="11.1" lengthAdjust="spacingAndGlyphs" transform="rotate(-90 455.4 468.9)">sg</text>
<text x="471.5" y="468" font-size="11" fill="#111" stroke="#111" stroke-width="0.2" textLength="10.9" lengthAdjust="spacingAndGlyphs" transform="rotate(-90 471.5 468)">su</text>
<path d="M526.7 522 V518.3 Q526.7 516.5 528.5 516.5 H540.3 Q542.1 516.5 542.1 518.3 V522 M534.2 516.8 V511.3 M542.1 522 V518.3 Q542.1 516.5 543.9 516.5 H555.5 Q557.3 516.5 557.3 518.3 V522 M549.5 516.8 V511.3" fill="none" stroke="#444" stroke-width="1.3" stroke-linecap="butt"/>
<text x="538.3" y="505" font-size="11" fill="#111" stroke="#111" stroke-width="0.2" textLength="11.3" lengthAdjust="spacingAndGlyphs" transform="rotate(-90 538.3 505)">sg</text>
<text x="555.5" y="503.8" font-size="11" fill="#111" stroke="#111" stroke-width="0.2" textLength="11.1" lengthAdjust="spacingAndGlyphs" transform="rotate(-90 555.5 503.8)">su</text>
</g>
</svg>
</body></html>
